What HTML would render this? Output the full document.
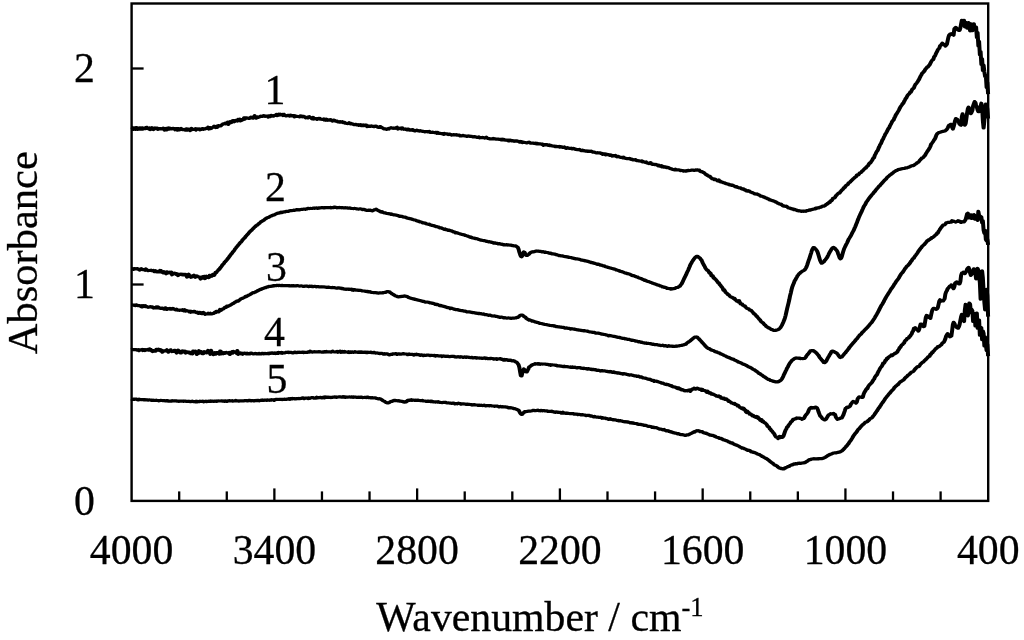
<!DOCTYPE html>
<html><head><meta charset="utf-8"><title>Absorbance spectra</title>
<style>
html,body{margin:0;padding:0;background:#fff;}
body{width:1024px;height:640px;overflow:hidden;}
svg{display:block;}
text{font-family:"Liberation Serif", serif;font-size:42.5px;fill:#000;stroke:#000;stroke-width:0.3px;}
</style></head><body>
<svg width="1024" height="640" viewBox="0 0 1024 640">
<rect width="1024" height="640" fill="#fff"/>
<g transform="scale(1.25,1)" fill="none" stroke="#000" stroke-width="3.2" stroke-linejoin="round" stroke-linecap="butt">
<path d="M105.28,127.2 L105.88,127.4 L106.48,129.4 L107.08,129.0 L107.68,128.0 L108.28,129.3 L108.88,127.6 L109.48,129.2 L110.08,129.4 L110.68,128.1 L111.28,127.9 L111.88,129.1 L112.48,127.9 L113.08,129.1 L113.68,127.8 L114.28,129.0 L114.88,128.6 L115.48,128.3 L116.08,127.9 L116.68,128.6 L117.28,127.3 L117.88,128.3 L118.48,128.3 L119.08,129.0 L119.68,127.9 L120.28,129.6 L120.88,128.3 L121.48,127.7 L122.08,129.3 L122.68,129.5 L123.28,128.4 L123.88,128.0 L124.48,128.5 L125.08,128.1 L125.68,128.2 L126.28,129.4 L126.88,128.7 L127.48,128.6 L128.08,128.8 L128.68,128.5 L129.28,129.0 L129.88,128.9 L130.48,128.2 L131.08,128.6 L131.68,130.0 L132.28,128.8 L132.88,128.5 L133.48,129.8 L134.08,128.6 L134.68,128.0 L135.28,129.1 L135.88,128.2 L136.48,128.5 L137.08,129.0 L137.68,128.7 L138.28,128.3 L138.88,128.5 L139.48,128.6 L140.08,129.7 L140.68,128.6 L141.28,128.7 L141.88,130.2 L142.48,128.6 L143.08,129.9 L143.68,129.9 L144.28,129.1 L144.88,128.4 L145.48,129.5 L146.08,129.6 L146.68,129.7 L147.28,129.3 L147.88,130.0 L148.48,130.2 L149.08,128.8 L149.68,130.2 L150.28,129.5 L150.88,129.0 L151.48,129.2 L152.08,130.5 L152.68,130.0 L153.28,128.4 L153.88,129.5 L154.48,129.3 L155.08,129.3 L155.68,129.2 L156.28,128.7 L156.88,130.0 L157.48,129.0 L158.08,129.2 L158.68,129.0 L159.28,128.9 L159.88,129.8 L160.48,129.5 L161.08,128.9 L161.68,128.6 L162.28,128.7 L162.88,129.4 L163.48,128.8 L164.08,128.8 L164.68,128.4 L165.28,128.4 L165.88,128.5 L166.48,127.2 L167.08,129.0 L167.68,127.5 L168.28,127.5 L168.88,128.5 L169.48,127.7 L170.08,127.4 L170.68,126.9 L171.28,126.2 L171.88,127.1 L172.48,127.6 L173.08,126.3 L173.68,127.4 L174.28,125.8 L174.88,125.7 L175.48,126.1 L176.08,125.6 L176.68,125.9 L177.28,124.9 L177.88,124.6 L178.48,123.8 L179.08,123.9 L179.68,123.6 L180.28,123.2 L180.88,123.9 L181.48,123.2 L182.08,122.2 L182.68,124.4 L183.28,122.2 L183.88,121.7 L184.48,122.8 L185.08,122.6 L185.68,121.1 L186.28,120.7 L186.88,120.7 L187.48,121.7 L188.08,120.7 L188.68,120.3 L189.28,120.6 L189.88,121.1 L190.48,119.5 L191.08,119.9 L191.68,119.1 L192.28,120.9 L192.88,120.6 L193.48,120.0 L194.08,119.3 L194.68,119.6 L195.28,117.8 L195.88,119.0 L196.48,117.9 L197.08,117.8 L197.68,118.0 L198.28,118.1 L198.88,118.4 L199.48,118.3 L200.08,117.9 L200.68,117.1 L201.28,117.9 L201.88,117.4 L202.48,118.0 L203.08,116.8 L203.68,115.7 L204.28,116.8 L204.88,118.2 L205.48,117.2 L206.08,116.8 L206.68,117.3 L207.28,117.0 L207.88,116.8 L208.48,116.2 L209.08,116.4 L209.68,116.4 L210.28,115.9 L210.88,115.6 L211.48,116.1 L212.08,116.4 L212.68,116.1 L213.28,116.0 L213.88,116.0 L214.48,117.1 L215.08,115.8 L215.68,116.2 L216.28,116.5 L216.88,115.4 L217.48,115.5 L218.08,115.9 L218.68,116.2 L219.28,115.5 L219.88,115.4 L220.48,115.2 L221.08,114.4 L221.68,115.6 L222.28,114.9 L222.88,114.2 L223.48,115.0 L224.08,114.1 L224.68,114.5 L225.28,114.9 L225.88,114.5 L226.48,115.5 L227.08,114.3 L227.68,115.2 L228.28,115.4 L228.88,115.9 L229.48,115.7 L230.08,115.4 L230.68,115.4 L231.28,115.4 L231.88,116.1 L232.48,115.2 L233.08,115.8 L233.68,115.5 L234.28,115.8 L234.88,115.7 L235.48,116.9 L236.08,115.8 L236.68,116.2 L237.28,116.3 L237.88,116.5 L238.48,116.5 L239.08,116.5 L239.68,116.9 L240.28,115.9 L240.88,116.6 L241.48,116.1 L242.08,116.8 L242.68,116.3 L243.28,116.6 L243.88,117.1 L244.48,117.8 L245.08,117.5 L245.68,117.4 L246.28,117.9 L246.88,117.0 L247.48,116.7 L248.08,117.5 L248.68,117.7 L249.28,118.4 L249.88,118.8 L250.48,117.4 L251.08,119.0 L251.68,118.8 L252.28,118.6 L252.88,118.6 L253.48,119.4 L254.08,118.6 L254.68,118.4 L255.28,118.8 L255.88,118.4 L256.48,119.2 L257.08,119.1 L257.68,119.4 L258.28,119.4 L258.88,119.0 L259.48,120.0 L260.08,119.3 L260.68,120.2 L261.28,119.3 L261.88,120.2 L262.48,119.8 L263.08,120.2 L263.68,120.1 L264.28,119.6 L264.88,120.1 L265.48,120.7 L266.08,121.0 L266.68,120.3 L267.28,120.1 L267.88,120.7 L268.48,121.1 L269.08,121.1 L269.68,121.2 L270.28,121.9 L270.88,122.0 L271.48,122.1 L272.08,121.6 L272.68,122.1 L273.28,122.2 L273.88,121.8 L274.48,122.7 L275.08,122.5 L275.68,122.4 L276.28,123.2 L276.88,123.2 L277.48,123.4 L278.08,123.6 L278.68,123.5 L279.28,122.8 L279.88,123.3 L280.48,123.9 L281.08,123.5 L281.68,123.9 L282.28,124.1 L282.88,124.6 L283.48,124.6 L284.08,124.5 L284.68,124.3 L285.28,124.8 L285.88,124.9 L286.48,124.7 L287.08,125.3 L287.68,125.0 L288.28,124.7 L288.88,125.5 L289.48,125.2 L290.08,125.6 L290.68,124.9 L291.28,125.5 L291.88,125.2 L292.48,125.3 L293.08,125.1 L293.68,126.5 L294.28,125.9 L294.88,126.0 L295.48,126.3 L296.08,126.0 L296.68,126.3 L297.28,125.8 L297.88,126.4 L298.48,126.3 L299.08,126.6 L299.68,126.6 L300.28,126.1 L300.88,126.1 L301.48,126.5 L302.08,127.2 L302.68,127.3 L303.28,127.4 L303.88,126.7 L304.48,126.6 L305.08,127.4 L305.68,127.8 L306.28,128.0 L306.88,128.7 L307.48,128.9 L308.08,128.8 L308.68,129.0 L309.28,129.3 L309.88,129.0 L310.48,128.6 L311.08,129.0 L311.68,128.0 L312.28,128.0 L312.88,127.7 L313.48,127.9 L314.08,128.2 L314.68,128.3 L315.28,128.1 L315.88,128.3 L316.48,128.2 L317.08,127.7 L317.68,127.3 L318.28,129.1 L318.88,128.7 L319.48,128.5 L320.08,128.1 L320.68,128.2 L321.28,129.0 L321.88,127.9 L322.48,128.8 L323.08,129.3 L323.68,129.1 L324.28,129.3 L324.88,129.1 L325.48,129.9 L326.08,129.0 L326.68,129.1 L327.28,129.8 L327.88,130.2 L328.48,129.8 L329.08,130.1 L329.68,129.7 L330.28,129.7 L330.88,130.6 L331.48,130.8 L332.08,130.9 L332.68,130.4 L333.28,130.2 L333.88,130.3 L334.48,130.7 L335.08,131.0 L335.68,131.1 L336.28,130.6 L336.88,131.2 L337.48,131.2 L338.08,131.3 L338.68,131.4 L339.28,131.5 L339.88,131.8 L340.48,131.7 L341.08,131.7 L341.68,131.5 L342.28,131.8 L342.88,131.8 L343.48,131.4 L344.08,132.3 L344.68,132.1 L345.28,132.5 L345.88,132.2 L346.48,132.3 L347.08,132.5 L347.68,132.6 L348.28,132.6 L348.88,132.3 L349.48,133.3 L350.08,132.4 L350.68,132.9 L351.28,133.3 L351.88,133.3 L352.48,133.5 L353.08,133.6 L353.68,133.8 L354.28,133.6 L354.88,134.4 L355.48,133.4 L356.08,133.9 L356.68,133.8 L357.28,133.8 L357.88,134.1 L358.48,134.5 L359.08,134.0 L359.68,134.1 L360.28,134.6 L360.88,134.7 L361.48,135.1 L362.08,134.9 L362.68,134.7 L363.28,134.6 L363.88,134.9 L364.48,134.9 L365.08,134.7 L365.68,135.1 L366.28,135.1 L366.88,135.1 L367.48,135.2 L368.08,135.9 L368.68,135.7 L369.28,135.9 L369.88,135.5 L370.48,135.4 L371.08,135.7 L371.68,135.9 L372.28,135.9 L372.88,136.1 L373.48,136.5 L374.08,136.3 L374.68,135.9 L375.28,136.1 L375.88,136.2 L376.48,136.5 L377.08,136.3 L377.68,136.6 L378.28,136.9 L378.88,136.8 L379.48,136.6 L380.08,136.8 L380.68,137.1 L381.28,137.3 L381.88,137.5 L382.48,137.3 L383.08,137.0 L383.68,137.8 L384.28,137.5 L384.88,137.7 L385.48,137.7 L386.08,137.4 L386.68,137.6 L387.28,137.8 L387.88,138.1 L388.48,137.9 L389.08,137.2 L389.68,138.1 L390.28,138.4 L390.88,138.6 L391.48,138.5 L392.08,139.0 L392.68,138.8 L393.28,138.9 L393.88,138.9 L394.48,138.4 L395.08,139.0 L395.68,139.0 L396.28,138.8 L396.88,139.2 L397.48,139.2 L398.08,139.1 L398.68,139.2 L399.28,139.3 L399.88,139.5 L400.48,139.4 L401.08,139.8 L401.68,139.2 L402.28,139.8 L402.88,139.4 L403.48,139.8 L404.08,140.1 L404.68,140.0 L405.28,140.1 L405.88,140.3 L406.48,140.8 L407.08,140.1 L407.68,140.7 L408.28,140.1 L408.88,140.4 L409.48,140.8 L410.08,140.6 L410.68,141.1 L411.28,141.3 L411.88,140.8 L412.48,141.1 L413.08,141.1 L413.68,140.8 L414.28,141.4 L414.88,141.3 L415.48,142.0 L416.08,141.4 L416.68,142.1 L417.28,141.6 L417.88,142.5 L418.48,142.2 L419.08,142.3 L419.68,142.5 L420.28,142.5 L420.88,142.7 L421.48,142.9 L422.08,142.5 L422.68,142.4 L423.28,142.1 L423.88,142.8 L424.48,143.2 L425.08,143.2 L425.68,143.2 L426.28,143.2 L426.88,143.2 L427.48,143.4 L428.08,143.6 L428.68,143.1 L429.28,143.9 L429.88,143.4 L430.48,143.8 L431.08,143.8 L431.68,144.0 L432.28,143.9 L432.88,144.0 L433.48,144.3 L434.08,144.2 L434.68,145.3 L435.28,144.6 L435.88,144.7 L436.48,144.8 L437.08,144.7 L437.68,144.5 L438.28,145.2 L438.88,145.4 L439.48,145.0 L440.08,145.6 L440.68,145.3 L441.28,145.7 L441.88,145.9 L442.48,146.1 L443.08,146.2 L443.68,146.0 L444.28,146.6 L444.88,146.3 L445.48,146.5 L446.08,146.7 L446.68,146.6 L447.28,146.4 L447.88,147.1 L448.48,146.7 L449.08,146.9 L449.68,146.9 L450.28,147.5 L450.88,147.4 L451.48,146.9 L452.08,147.8 L452.68,148.3 L453.28,148.3 L453.88,147.7 L454.48,148.0 L455.08,148.3 L455.68,148.5 L456.28,148.4 L456.88,148.2 L457.48,148.8 L458.08,148.8 L458.68,148.3 L459.28,148.7 L459.88,149.1 L460.48,149.2 L461.08,149.5 L461.68,149.6 L462.28,149.7 L462.88,149.6 L463.48,149.4 L464.08,150.1 L464.68,150.4 L465.28,150.7 L465.88,150.2 L466.48,150.3 L467.08,150.8 L467.68,151.0 L468.28,150.9 L468.88,151.2 L469.48,150.9 L470.08,151.3 L470.68,151.0 L471.28,151.3 L471.88,151.4 L472.48,151.5 L473.08,151.2 L473.68,151.7 L474.28,152.1 L474.88,152.1 L475.48,152.1 L476.08,152.5 L476.68,152.7 L477.28,152.9 L477.88,152.6 L478.48,152.9 L479.08,152.9 L479.68,152.9 L480.28,152.9 L480.88,153.5 L481.48,153.4 L482.08,154.3 L482.68,153.8 L483.28,153.8 L483.88,153.9 L484.48,154.8 L485.08,154.2 L485.68,154.6 L486.28,154.5 L486.88,154.8 L487.48,154.9 L488.08,155.4 L488.68,154.9 L489.28,155.5 L489.88,156.1 L490.48,155.6 L491.08,155.8 L491.68,155.7 L492.28,155.4 L492.88,156.3 L493.48,156.8 L494.08,156.5 L494.68,156.3 L495.28,156.9 L495.88,157.0 L496.48,157.4 L497.08,157.5 L497.68,157.4 L498.28,157.8 L498.88,157.2 L499.48,158.1 L500.08,158.0 L500.68,158.4 L501.28,158.6 L501.88,158.5 L502.48,158.7 L503.08,158.6 L503.68,158.4 L504.28,159.0 L504.88,159.3 L505.48,159.1 L506.08,159.8 L506.68,159.8 L507.28,160.0 L507.88,159.8 L508.48,159.7 L509.08,160.5 L509.68,160.7 L510.28,160.7 L510.88,160.8 L511.48,160.9 L512.08,161.1 L512.68,161.2 L513.28,160.9 L513.88,161.8 L514.48,161.4 L515.08,161.9 L515.68,162.0 L516.28,162.4 L516.88,162.0 L517.48,163.0 L518.08,163.1 L518.68,163.3 L519.28,163.6 L519.88,163.1 L520.48,162.6 L521.08,163.7 L521.68,164.2 L522.28,164.4 L522.88,164.2 L523.48,164.5 L524.08,164.7 L524.68,164.3 L525.28,164.7 L525.88,165.0 L526.48,165.8 L527.08,165.3 L527.68,166.1 L528.28,165.9 L528.88,165.6 L529.48,166.8 L530.08,166.1 L530.68,166.7 L531.28,167.2 L531.88,166.8 L532.48,166.8 L533.08,167.6 L533.68,167.5 L534.28,167.4 L534.88,167.7 L535.48,168.1 L536.08,168.7 L536.68,168.5 L537.28,168.9 L537.88,169.3 L538.48,169.5 L539.08,169.7 L539.68,169.8 L540.28,169.2 L540.88,170.0 L541.48,169.9 L542.08,169.9 L542.68,169.9 L543.28,169.9 L543.88,170.2 L544.48,170.6 L545.08,170.4 L545.68,170.6 L546.28,170.7 L546.88,171.1 L547.48,170.8 L548.08,170.9 L548.68,171.2 L549.28,170.6 L549.88,170.8 L550.48,170.3 L551.08,170.6 L551.68,170.5 L552.28,170.5 L552.88,170.3 L553.48,170.0 L554.08,170.1 L554.68,170.0 L555.28,170.4 L555.88,170.4 L556.48,169.8 L557.08,170.2 L557.68,169.8 L558.28,170.1 L558.88,170.1 L559.48,170.2 L560.08,171.3 L560.68,171.6 L561.28,171.5 L561.88,171.7 L562.48,172.4 L563.08,172.6 L563.68,173.3 L564.28,174.0 L564.88,174.7 L565.48,174.7 L566.08,175.6 L566.68,176.1 L567.28,176.2 L567.88,176.3 L568.48,177.5 L569.08,177.9 L569.68,178.7 L570.28,178.8 L570.88,178.9 L571.48,179.5 L572.08,179.1 L572.68,179.8 L573.28,180.0 L573.88,180.8 L574.48,180.7 L575.08,180.0 L575.68,181.5 L576.28,181.2 L576.88,182.0 L577.48,181.9 L578.08,182.3 L578.68,182.7 L579.28,182.8 L579.88,182.8 L580.48,183.7 L581.08,183.7 L581.68,183.8 L582.28,184.2 L582.88,184.0 L583.48,184.9 L584.08,184.7 L584.68,185.0 L585.28,185.3 L585.88,185.2 L586.48,185.3 L587.08,185.9 L587.68,186.2 L588.28,186.8 L588.88,186.8 L589.48,186.7 L590.08,187.4 L590.68,187.6 L591.28,187.9 L591.88,187.9 L592.48,187.8 L593.08,188.8 L593.68,188.6 L594.28,189.2 L594.88,188.9 L595.48,189.8 L596.08,189.6 L596.68,190.5 L597.28,191.0 L597.88,191.1 L598.48,190.7 L599.08,191.0 L599.68,191.3 L600.28,192.0 L600.88,192.2 L601.48,192.4 L602.08,192.8 L602.68,193.1 L603.28,193.4 L603.88,193.9 L604.48,193.8 L605.08,194.2 L605.68,193.9 L606.28,194.4 L606.88,194.8 L607.48,195.0 L608.08,195.7 L608.68,196.2 L609.28,196.1 L609.88,196.4 L610.48,196.7 L611.08,197.1 L611.68,197.2 L612.28,197.7 L612.88,198.0 L613.48,198.3 L614.08,198.8 L614.68,198.9 L615.28,199.2 L615.88,200.0 L616.48,199.8 L617.08,200.4 L617.68,200.5 L618.28,200.8 L618.88,201.1 L619.48,201.3 L620.08,201.8 L620.68,201.9 L621.28,202.3 L621.88,203.1 L622.48,203.1 L623.08,203.8 L623.68,203.8 L624.28,204.3 L624.88,204.2 L625.48,204.8 L626.08,205.8 L626.68,205.7 L627.28,206.1 L627.88,206.1 L628.48,206.5 L629.08,206.2 L629.68,206.7 L630.28,207.4 L630.88,207.9 L631.48,207.9 L632.08,208.2 L632.68,208.5 L633.28,208.8 L633.88,208.8 L634.48,209.0 L635.08,209.7 L635.68,209.4 L636.28,209.8 L636.88,210.1 L637.48,210.2 L638.08,210.7 L638.68,210.7 L639.28,211.0 L639.88,210.9 L640.48,211.0 L641.08,211.3 L641.68,211.3 L642.28,211.1 L642.88,211.3 L643.48,211.2 L644.08,211.1 L644.68,211.3 L645.28,210.6 L645.88,210.7 L646.48,210.5 L647.08,210.2 L647.68,209.8 L648.28,210.1 L648.88,209.8 L649.48,209.5 L650.08,209.3 L650.68,209.2 L651.28,208.8 L651.88,209.0 L652.48,208.2 L653.08,208.5 L653.68,207.8 L654.28,207.9 L654.88,208.0 L655.48,207.5 L656.08,207.2 L656.68,207.2 L657.28,206.7 L657.88,206.3 L658.48,206.0 L659.08,206.2 L659.68,205.7 L660.28,205.3 L660.88,204.4 L661.48,204.4 L662.08,203.4 L662.68,203.3 L663.28,202.2 L663.88,202.4 L664.48,200.8 L665.08,200.9 L665.68,200.0 L666.28,198.5 L666.88,198.2 L667.48,198.0 L668.08,197.2 L668.68,195.8 L669.28,195.3 L669.88,194.3 L670.48,193.6 L671.08,193.0 L671.68,193.0 L672.28,191.8 L672.88,191.0 L673.48,190.1 L674.08,189.6 L674.68,188.7 L675.28,187.5 L675.88,187.4 L676.48,186.0 L677.08,185.4 L677.68,184.8 L678.28,184.4 L678.88,183.0 L679.48,182.5 L680.08,182.0 L680.68,181.1 L681.28,180.5 L681.88,179.8 L682.48,178.9 L683.08,178.3 L683.68,177.7 L684.28,176.9 L684.88,176.7 L685.48,175.1 L686.08,174.8 L686.68,174.8 L687.28,173.9 L687.88,172.9 L688.48,172.6 L689.08,172.2 L689.68,171.1 L690.28,170.7 L690.88,169.7 L691.48,169.0 L692.08,168.3 L692.68,168.0 L693.28,166.7 L693.88,166.2 L694.48,165.6 L695.08,164.1 L695.68,163.1 L696.28,162.9 L696.88,161.8 L697.48,160.7 L698.08,159.6 L698.68,158.0 L699.28,157.7 L699.88,155.1 L700.48,153.9 L701.08,152.2 L701.68,151.1 L702.28,150.1 L702.88,148.0 L703.48,146.6 L704.08,144.6 L704.68,143.8 L705.28,141.9 L705.88,140.0 L706.48,139.1 L707.08,137.1 L707.68,135.8 L708.28,134.1 L708.88,133.0 L709.48,131.7 L710.08,130.2 L710.68,128.6 L711.28,127.9 L711.88,126.0 L712.48,124.7 L713.08,123.3 L713.68,121.6 L714.28,120.6 L714.88,120.1 L715.48,118.0 L716.08,116.6 L716.68,114.9 L717.28,113.9 L717.88,112.6 L718.48,111.4 L719.08,110.1 L719.68,108.5 L720.28,107.1 L720.88,106.0 L721.48,105.0 L722.08,103.7 L722.68,103.3 L723.28,101.5 L723.88,100.1 L724.48,98.6 L725.08,97.9 L725.68,96.2 L726.28,95.0 L726.88,94.3 L727.48,93.8 L728.08,92.2 L728.68,92.1 L729.28,90.6 L729.88,89.2 L730.48,88.6 L731.08,88.2 L731.68,86.0 L732.28,84.5 L732.88,83.7 L733.48,82.8 L734.08,81.8 L734.68,80.4 L735.28,79.4 L735.88,77.6 L736.48,76.1 L737.08,75.0 L737.68,73.2 L738.28,72.9 L738.88,71.7 L739.48,71.3 L740.08,69.6 L740.68,68.6 L741.28,68.0 L741.88,66.8 L742.48,66.8 L743.08,65.6 L743.68,64.9 L744.28,63.4 L744.88,61.9 L745.48,60.6 L746.08,59.8 L746.68,59.5 L747.28,56.8 L747.88,56.1 L748.48,54.5 L749.08,52.7 L749.68,51.6 L750.28,49.8 L750.88,48.8 L751.48,48.2 L752.08,45.7 L752.68,45.4 L753.28,44.4 L753.88,43.1 L754.48,43.9 L755.08,44.4 L755.68,44.9 L756.28,46.0 L756.88,45.2 L757.48,44.4 L758.08,41.0 L758.68,37.4 L759.28,35.2 L759.88,34.3 L760.48,34.7 L761.08,33.8 L761.68,34.4 L762.28,34.3 L762.88,35.2 L763.48,28.8 L764.08,28.1 L764.68,27.4 L765.28,28.7 L765.88,29.2 L766.48,30.1 L767.08,30.4 L767.68,30.3 L768.28,28.0 L768.88,23.9 L769.48,20.3 L770.08,24.4 L770.68,25.0 L771.28,20.4 L771.88,26.9 L772.48,26.4 L773.08,22.5 L773.68,28.2 L774.28,27.6 L774.88,22.7 L775.48,26.1 L776.08,30.9 L776.68,23.8 L777.28,25.1 L777.88,30.7 L778.48,27.0 L779.08,23.8 L779.68,29.2 L780.28,30.2 L780.88,27.0 L781.48,37.4 L782.08,32.6 L782.68,45.9 L783.28,41.4 L783.88,54.6 L784.48,51.6 L785.08,64.4 L785.68,58.8 L786.28,70.3 L786.88,65.1 L787.48,71.7 L788.08,76.5 L788.68,75.3 L789.28,87.5 L789.88,82.4 L790.48,94.1"/>
<path d="M105.28,268.8 L105.88,268.8 L106.48,268.7 L107.08,269.4 L107.68,268.5 L108.28,268.7 L108.88,268.9 L109.48,268.6 L110.08,268.7 L110.68,268.9 L111.28,269.8 L111.88,270.1 L112.48,269.6 L113.08,268.8 L113.68,269.3 L114.28,269.6 L114.88,269.7 L115.48,269.7 L116.08,270.2 L116.68,269.0 L117.28,269.7 L117.88,270.2 L118.48,270.6 L119.08,270.5 L119.68,270.5 L120.28,270.4 L120.88,270.2 L121.48,270.7 L122.08,270.6 L122.68,270.4 L123.28,271.6 L123.88,271.7 L124.48,270.8 L125.08,271.5 L125.68,271.9 L126.28,271.4 L126.88,271.4 L127.48,271.8 L128.08,270.4 L128.68,270.6 L129.28,272.1 L129.88,272.0 L130.48,272.9 L131.08,271.7 L131.68,272.9 L132.28,273.0 L132.88,273.7 L133.48,271.8 L134.08,272.2 L134.68,272.8 L135.28,272.9 L135.88,272.2 L136.48,272.6 L137.08,272.2 L137.68,274.8 L138.28,273.2 L138.88,273.4 L139.48,273.1 L140.08,273.6 L140.68,274.3 L141.28,273.6 L141.88,273.9 L142.48,275.6 L143.08,274.8 L143.68,274.5 L144.28,274.1 L144.88,274.5 L145.48,274.1 L146.08,274.9 L146.68,274.3 L147.28,274.4 L147.88,274.8 L148.48,274.4 L149.08,275.4 L149.68,277.1 L150.28,275.0 L150.88,274.3 L151.48,276.3 L152.08,275.7 L152.68,277.3 L153.28,276.3 L153.88,276.8 L154.48,275.8 L155.08,275.3 L155.68,276.4 L156.28,277.2 L156.88,276.2 L157.48,275.8 L158.08,276.5 L158.68,276.7 L159.28,276.9 L159.88,277.2 L160.48,279.0 L161.08,277.4 L161.68,277.0 L162.28,276.6 L162.88,278.0 L163.48,276.3 L164.08,278.5 L164.68,277.4 L165.28,276.3 L165.88,277.3 L166.48,276.9 L167.08,277.6 L167.68,275.3 L168.28,276.3 L168.88,275.8 L169.48,276.2 L170.08,274.4 L170.68,274.2 L171.28,275.4 L171.88,274.0 L172.48,272.4 L173.08,272.6 L173.68,271.4 L174.28,270.6 L174.88,269.6 L175.48,269.4 L176.08,268.0 L176.68,267.2 L177.28,266.2 L177.88,265.0 L178.48,264.2 L179.08,263.5 L179.68,262.2 L180.28,261.6 L180.88,260.7 L181.48,259.9 L182.08,258.9 L182.68,258.0 L183.28,256.9 L183.88,255.9 L184.48,254.8 L185.08,253.9 L185.68,253.2 L186.28,251.9 L186.88,251.2 L187.48,250.2 L188.08,248.9 L188.68,248.1 L189.28,247.0 L189.88,246.3 L190.48,245.2 L191.08,244.4 L191.68,243.5 L192.28,242.4 L192.88,242.1 L193.48,241.0 L194.08,239.8 L194.68,239.2 L195.28,238.2 L195.88,237.7 L196.48,236.5 L197.08,235.7 L197.68,234.8 L198.28,234.2 L198.88,233.2 L199.48,232.3 L200.08,231.5 L200.68,230.7 L201.28,230.2 L201.88,229.4 L202.48,228.6 L203.08,227.9 L203.68,227.1 L204.28,226.6 L204.88,225.6 L205.48,225.3 L206.08,224.9 L206.68,224.1 L207.28,223.4 L207.88,222.9 L208.48,222.1 L209.08,221.5 L209.68,221.2 L210.28,220.5 L210.88,220.4 L211.48,219.7 L212.08,219.1 L212.68,218.6 L213.28,218.2 L213.88,217.5 L214.48,217.5 L215.08,217.3 L215.68,216.8 L216.28,216.3 L216.88,216.1 L217.48,215.7 L218.08,215.3 L218.68,215.1 L219.28,215.0 L219.88,214.5 L220.48,214.1 L221.08,213.8 L221.68,213.6 L222.28,213.1 L222.88,213.2 L223.48,213.0 L224.08,212.4 L224.68,212.2 L225.28,212.6 L225.88,212.2 L226.48,212.2 L227.08,211.8 L227.68,212.0 L228.28,211.7 L228.88,211.3 L229.48,211.3 L230.08,211.4 L230.68,211.4 L231.28,211.0 L231.88,210.7 L232.48,210.5 L233.08,210.7 L233.68,210.6 L234.28,210.4 L234.88,210.2 L235.48,210.3 L236.08,210.2 L236.68,210.0 L237.28,209.6 L237.88,209.7 L238.48,209.9 L239.08,209.6 L239.68,209.9 L240.28,209.6 L240.88,209.4 L241.48,209.4 L242.08,209.4 L242.68,209.1 L243.28,209.2 L243.88,209.0 L244.48,209.3 L245.08,208.8 L245.68,208.8 L246.28,208.4 L246.88,208.4 L247.48,208.6 L248.08,208.4 L248.68,208.5 L249.28,208.5 L249.88,208.5 L250.48,208.1 L251.08,208.2 L251.68,208.3 L252.28,208.1 L252.88,207.9 L253.48,208.0 L254.08,208.3 L254.68,207.9 L255.28,208.1 L255.88,207.8 L256.48,208.0 L257.08,207.6 L257.68,207.7 L258.28,207.7 L258.88,207.9 L259.48,207.7 L260.08,207.8 L260.68,207.6 L261.28,207.5 L261.88,207.7 L262.48,207.7 L263.08,207.6 L263.68,207.6 L264.28,207.4 L264.88,207.8 L265.48,207.5 L266.08,207.7 L266.68,207.6 L267.28,207.2 L267.88,207.2 L268.48,207.3 L269.08,207.5 L269.68,207.8 L270.28,207.6 L270.88,207.7 L271.48,207.4 L272.08,207.6 L272.68,207.6 L273.28,207.8 L273.88,207.6 L274.48,207.8 L275.08,207.9 L275.68,207.8 L276.28,207.7 L276.88,207.9 L277.48,207.8 L278.08,207.9 L278.68,208.2 L279.28,208.2 L279.88,207.9 L280.48,208.2 L281.08,208.4 L281.68,208.5 L282.28,208.5 L282.88,208.6 L283.48,208.4 L284.08,208.5 L284.68,208.5 L285.28,208.9 L285.88,208.9 L286.48,209.1 L287.08,209.1 L287.68,208.9 L288.28,208.9 L288.88,209.0 L289.48,209.2 L290.08,209.6 L290.68,209.4 L291.28,209.4 L291.88,209.8 L292.48,210.1 L293.08,210.2 L293.68,210.4 L294.28,210.3 L294.88,210.2 L295.48,210.3 L296.08,210.2 L296.68,210.3 L297.28,210.7 L297.88,210.8 L298.48,210.5 L299.08,210.1 L299.68,209.7 L300.28,209.5 L300.88,209.2 L301.48,209.8 L302.08,210.2 L302.68,210.6 L303.28,211.1 L303.88,211.2 L304.48,211.8 L305.08,212.1 L305.68,211.7 L306.28,212.3 L306.88,212.6 L307.48,213.0 L308.08,212.8 L308.68,213.1 L309.28,213.5 L309.88,213.5 L310.48,213.6 L311.08,213.7 L311.68,213.9 L312.28,213.9 L312.88,214.3 L313.48,214.2 L314.08,214.6 L314.68,214.8 L315.28,215.0 L315.88,214.9 L316.48,215.0 L317.08,215.2 L317.68,215.3 L318.28,215.7 L318.88,215.7 L319.48,216.2 L320.08,216.5 L320.68,216.1 L321.28,216.4 L321.88,216.4 L322.48,216.9 L323.08,217.1 L323.68,217.2 L324.28,217.2 L324.88,217.5 L325.48,218.0 L326.08,218.2 L326.68,218.3 L327.28,218.4 L327.88,218.7 L328.48,218.8 L329.08,218.9 L329.68,219.2 L330.28,219.6 L330.88,219.8 L331.48,220.0 L332.08,220.0 L332.68,220.2 L333.28,220.8 L333.88,220.8 L334.48,221.3 L335.08,221.2 L335.68,221.8 L336.28,221.9 L336.88,222.0 L337.48,222.2 L338.08,222.8 L338.68,222.9 L339.28,222.9 L339.88,223.2 L340.48,223.2 L341.08,223.9 L341.68,224.0 L342.28,224.0 L342.88,224.4 L343.48,224.1 L344.08,224.9 L344.68,225.1 L345.28,225.2 L345.88,225.5 L346.48,225.6 L347.08,225.7 L347.68,226.0 L348.28,226.3 L348.88,226.7 L349.48,226.7 L350.08,226.8 L350.68,227.2 L351.28,227.2 L351.88,227.9 L352.48,227.9 L353.08,227.9 L353.68,228.3 L354.28,228.7 L354.88,228.9 L355.48,229.3 L356.08,229.0 L356.68,229.7 L357.28,229.6 L357.88,230.0 L358.48,230.3 L359.08,230.1 L359.68,230.3 L360.28,230.7 L360.88,230.8 L361.48,230.9 L362.08,231.4 L362.68,231.8 L363.28,231.8 L363.88,232.2 L364.48,232.9 L365.08,232.7 L365.68,232.8 L366.28,233.0 L366.88,233.4 L367.48,233.5 L368.08,233.9 L368.68,234.1 L369.28,234.4 L369.88,234.5 L370.48,234.7 L371.08,234.8 L371.68,234.9 L372.28,235.4 L372.88,235.6 L373.48,235.9 L374.08,236.1 L374.68,236.3 L375.28,236.9 L375.88,236.9 L376.48,237.3 L377.08,237.2 L377.68,237.7 L378.28,238.0 L378.88,238.1 L379.48,238.1 L380.08,238.6 L380.68,238.5 L381.28,238.7 L381.88,238.8 L382.48,239.3 L383.08,239.3 L383.68,239.7 L384.28,239.9 L384.88,240.2 L385.48,240.2 L386.08,240.4 L386.68,240.6 L387.28,240.6 L387.88,240.8 L388.48,241.0 L389.08,241.3 L389.68,241.3 L390.28,241.6 L390.88,241.9 L391.48,241.6 L392.08,241.9 L392.68,242.1 L393.28,242.5 L393.88,242.4 L394.48,242.7 L395.08,243.2 L395.68,242.8 L396.28,243.1 L396.88,243.3 L397.48,243.4 L398.08,243.4 L398.68,243.9 L399.28,243.6 L399.88,243.8 L400.48,244.1 L401.08,244.1 L401.68,244.5 L402.28,244.4 L402.88,244.8 L403.48,244.6 L404.08,244.9 L404.68,244.8 L405.28,244.7 L405.88,244.8 L406.48,245.1 L407.08,244.9 L407.68,245.1 L408.28,245.0 L408.88,245.0 L409.48,245.5 L410.08,245.7 L410.68,245.6 L411.28,246.0 L411.88,246.0 L412.48,245.9 L413.08,246.3 L413.68,246.9 L414.28,247.5 L414.88,249.3 L415.48,252.2 L416.08,254.4 L416.68,256.2 L417.28,256.7 L417.88,255.9 L418.48,253.4 L419.08,252.0 L419.68,252.4 L420.28,253.8 L420.88,255.2 L421.48,255.5 L422.08,255.2 L422.68,254.6 L423.28,254.0 L423.88,253.1 L424.48,252.5 L425.08,252.3 L425.68,251.8 L426.28,252.0 L426.88,251.8 L427.48,251.7 L428.08,251.3 L428.68,251.2 L429.28,251.2 L429.88,251.0 L430.48,251.1 L431.08,251.2 L431.68,251.4 L432.28,251.3 L432.88,251.6 L433.48,251.9 L434.08,251.7 L434.68,251.7 L435.28,251.9 L435.88,252.3 L436.48,252.2 L437.08,252.4 L437.68,252.5 L438.28,252.6 L438.88,253.1 L439.48,253.0 L440.08,253.3 L440.68,253.1 L441.28,253.8 L441.88,253.8 L442.48,253.9 L443.08,254.0 L443.68,254.2 L444.28,254.2 L444.88,254.7 L445.48,254.7 L446.08,255.0 L446.68,255.2 L447.28,255.6 L447.88,255.5 L448.48,255.7 L449.08,255.9 L449.68,255.8 L450.28,256.0 L450.88,256.3 L451.48,256.5 L452.08,256.6 L452.68,256.6 L453.28,257.0 L453.88,256.9 L454.48,256.9 L455.08,257.5 L455.68,257.4 L456.28,257.5 L456.88,257.6 L457.48,257.8 L458.08,258.2 L458.68,258.1 L459.28,258.6 L459.88,258.5 L460.48,258.8 L461.08,258.8 L461.68,258.9 L462.28,259.0 L462.88,259.2 L463.48,259.3 L464.08,259.5 L464.68,259.9 L465.28,260.2 L465.88,260.2 L466.48,260.3 L467.08,260.3 L467.68,260.8 L468.28,261.0 L468.88,260.9 L469.48,261.2 L470.08,261.3 L470.68,261.3 L471.28,262.0 L471.88,262.1 L472.48,262.2 L473.08,262.6 L473.68,262.5 L474.28,262.8 L474.88,263.2 L475.48,263.2 L476.08,263.5 L476.68,263.5 L477.28,264.0 L477.88,264.3 L478.48,264.1 L479.08,264.3 L479.68,264.7 L480.28,265.1 L480.88,265.1 L481.48,265.3 L482.08,265.6 L482.68,266.0 L483.28,265.8 L483.88,266.3 L484.48,266.7 L485.08,266.8 L485.68,267.0 L486.28,267.4 L486.88,267.3 L487.48,267.9 L488.08,267.9 L488.68,268.1 L489.28,268.4 L489.88,268.6 L490.48,268.8 L491.08,268.9 L491.68,269.2 L492.28,269.3 L492.88,270.0 L493.48,269.9 L494.08,270.2 L494.68,270.4 L495.28,270.8 L495.88,270.9 L496.48,271.4 L497.08,271.5 L497.68,271.8 L498.28,272.1 L498.88,272.3 L499.48,272.7 L500.08,272.9 L500.68,273.2 L501.28,273.2 L501.88,273.7 L502.48,273.7 L503.08,274.0 L503.68,274.1 L504.28,274.4 L504.88,274.9 L505.48,275.3 L506.08,275.7 L506.68,275.6 L507.28,275.8 L507.88,276.2 L508.48,276.5 L509.08,276.8 L509.68,276.8 L510.28,277.3 L510.88,277.7 L511.48,278.0 L512.08,278.2 L512.68,278.4 L513.28,278.8 L513.88,279.3 L514.48,279.5 L515.08,279.9 L515.68,280.3 L516.28,280.2 L516.88,280.7 L517.48,281.0 L518.08,281.4 L518.68,281.5 L519.28,281.8 L519.88,282.0 L520.48,282.4 L521.08,282.6 L521.68,282.9 L522.28,283.3 L522.88,283.5 L523.48,283.7 L524.08,284.0 L524.68,284.2 L525.28,284.6 L525.88,285.0 L526.48,285.1 L527.08,285.1 L527.68,285.8 L528.28,285.9 L528.88,286.1 L529.48,286.4 L530.08,287.0 L530.68,286.8 L531.28,287.2 L531.88,287.5 L532.48,287.3 L533.08,287.9 L533.68,288.3 L534.28,288.4 L534.88,288.5 L535.48,288.6 L536.08,288.7 L536.68,289.1 L537.28,288.7 L537.88,288.9 L538.48,288.5 L539.08,288.6 L539.68,288.5 L540.28,288.2 L540.88,287.6 L541.48,287.5 L542.08,287.4 L542.68,286.9 L543.28,286.4 L543.88,286.2 L544.48,285.0 L545.08,284.3 L545.68,283.0 L546.28,281.4 L546.88,279.8 L547.48,278.1 L548.08,276.6 L548.68,275.2 L549.28,273.4 L549.88,271.8 L550.48,270.3 L551.08,268.4 L551.68,266.8 L552.28,264.7 L552.88,263.5 L553.48,262.1 L554.08,261.0 L554.68,259.8 L555.28,258.9 L555.88,257.7 L556.48,257.2 L557.08,256.4 L557.68,256.4 L558.28,256.4 L558.88,257.2 L559.48,257.8 L560.08,258.3 L560.68,259.5 L561.28,260.1 L561.88,262.1 L562.48,263.7 L563.08,265.0 L563.68,266.3 L564.28,267.9 L564.88,269.0 L565.48,270.1 L566.08,270.1 L566.68,271.0 L567.28,272.5 L567.88,273.4 L568.48,273.1 L569.08,275.6 L569.68,276.2 L570.28,276.0 L570.88,277.9 L571.48,278.1 L572.08,279.1 L572.68,279.7 L573.28,280.6 L573.88,281.6 L574.48,282.7 L575.08,283.0 L575.68,284.4 L576.28,285.1 L576.88,286.2 L577.48,287.0 L578.08,288.1 L578.68,290.1 L579.28,289.7 L579.88,290.8 L580.48,292.3 L581.08,292.9 L581.68,293.4 L582.28,294.6 L582.88,294.5 L583.48,295.5 L584.08,296.5 L584.68,296.9 L585.28,297.0 L585.88,297.6 L586.48,298.1 L587.08,298.7 L587.68,298.4 L588.28,299.9 L588.88,300.2 L589.48,301.2 L590.08,301.3 L590.68,301.9 L591.28,300.7 L591.88,302.4 L592.48,304.0 L593.08,303.9 L593.68,304.1 L594.28,305.2 L594.88,305.4 L595.48,306.1 L596.08,306.2 L596.68,307.3 L597.28,308.3 L597.88,308.3 L598.48,308.9 L599.08,308.9 L599.68,310.0 L600.28,310.2 L600.88,310.3 L601.48,311.3 L602.08,312.0 L602.68,313.0 L603.28,313.9 L603.88,314.1 L604.48,314.9 L605.08,316.2 L605.68,316.5 L606.28,317.6 L606.88,318.4 L607.48,319.3 L608.08,319.9 L608.68,321.3 L609.28,321.9 L609.88,322.4 L610.48,323.0 L611.08,323.9 L611.68,324.8 L612.28,325.1 L612.88,326.4 L613.48,326.7 L614.08,327.2 L614.68,327.8 L615.28,327.9 L615.88,328.5 L616.48,328.9 L617.08,329.4 L617.68,329.6 L618.28,330.1 L618.88,330.4 L619.48,330.5 L620.08,330.4 L620.68,330.3 L621.28,330.0 L621.88,329.9 L622.48,329.6 L623.08,329.2 L623.68,328.5 L624.28,327.8 L624.88,326.6 L625.48,325.4 L626.08,323.7 L626.68,322.1 L627.28,320.2 L627.88,318.2 L628.48,315.5 L629.08,312.1 L629.68,308.8 L630.28,305.7 L630.88,302.7 L631.48,299.4 L632.08,295.6 L632.68,292.8 L633.28,289.4 L633.88,286.7 L634.48,284.7 L635.08,283.1 L635.68,280.9 L636.28,279.9 L636.88,278.4 L637.48,277.1 L638.08,275.7 L638.68,274.8 L639.28,273.8 L639.88,273.3 L640.48,272.4 L641.08,272.0 L641.68,271.4 L642.28,270.8 L642.88,270.7 L643.48,270.1 L644.08,269.4 L644.68,268.1 L645.28,266.6 L645.88,264.5 L646.48,262.2 L647.08,259.9 L647.68,258.1 L648.28,255.4 L648.88,253.1 L649.48,250.5 L650.08,248.9 L650.68,247.6 L651.28,247.5 L651.88,248.3 L652.48,249.0 L653.08,250.0 L653.68,251.1 L654.28,252.8 L654.88,255.3 L655.48,257.9 L656.08,260.5 L656.68,262.0 L657.28,263.2 L657.88,262.9 L658.48,262.2 L659.08,261.9 L659.68,260.5 L660.28,259.9 L660.88,258.7 L661.48,257.9 L662.08,256.5 L662.68,255.0 L663.28,253.3 L663.88,251.9 L664.48,250.8 L665.08,249.4 L665.68,248.3 L666.28,247.7 L666.88,247.4 L667.48,248.0 L668.08,248.5 L668.68,249.6 L669.28,250.3 L669.88,251.4 L670.48,253.7 L671.08,255.6 L671.68,257.7 L672.28,258.8 L672.88,258.3 L673.48,256.4 L674.08,253.7 L674.68,251.1 L675.28,248.8 L675.88,247.2 L676.48,245.6 L677.08,244.1 L677.68,242.8 L678.28,241.1 L678.88,239.3 L679.48,238.2 L680.08,236.9 L680.68,235.8 L681.28,234.2 L681.88,232.6 L682.48,231.3 L683.08,230.0 L683.68,228.1 L684.28,226.5 L684.88,224.6 L685.48,222.8 L686.08,220.6 L686.68,218.9 L687.28,216.9 L687.88,215.3 L688.48,213.6 L689.08,212.2 L689.68,210.4 L690.28,208.8 L690.88,207.0 L691.48,205.6 L692.08,204.8 L692.68,203.1 L693.28,201.7 L693.88,200.8 L694.48,199.7 L695.08,198.6 L695.68,197.6 L696.28,196.6 L696.88,195.9 L697.48,194.7 L698.08,194.0 L698.68,193.2 L699.28,192.0 L699.88,191.5 L700.48,190.3 L701.08,189.4 L701.68,188.5 L702.28,187.8 L702.88,186.6 L703.48,186.0 L704.08,185.4 L704.68,184.3 L705.28,183.6 L705.88,182.6 L706.48,182.0 L707.08,181.0 L707.68,180.2 L708.28,179.4 L708.88,178.9 L709.48,177.8 L710.08,176.9 L710.68,176.4 L711.28,175.8 L711.88,175.1 L712.48,174.5 L713.08,174.1 L713.68,173.4 L714.28,172.9 L714.88,172.2 L715.48,171.5 L716.08,171.4 L716.68,170.6 L717.28,170.5 L717.88,170.2 L718.48,169.6 L719.08,169.4 L719.68,169.3 L720.28,169.2 L720.88,168.8 L721.48,168.8 L722.08,168.6 L722.68,168.5 L723.28,168.5 L723.88,168.2 L724.48,167.8 L725.08,168.0 L725.68,167.7 L726.28,167.5 L726.88,167.1 L727.48,167.1 L728.08,166.6 L728.68,166.2 L729.28,165.8 L729.88,165.7 L730.48,165.7 L731.08,165.2 L731.68,164.7 L732.28,164.1 L732.88,163.8 L733.48,163.1 L734.08,162.4 L734.68,162.2 L735.28,161.3 L735.88,160.3 L736.48,159.5 L737.08,158.6 L737.68,157.8 L738.28,157.9 L738.88,157.1 L739.48,156.0 L740.08,155.4 L740.68,153.8 L741.28,152.6 L741.88,151.4 L742.48,150.4 L743.08,149.2 L743.68,148.0 L744.28,146.5 L744.88,144.2 L745.48,143.3 L746.08,142.3 L746.68,141.2 L747.28,139.9 L747.88,139.0 L748.48,137.4 L749.08,135.1 L749.68,133.8 L750.28,133.4 L750.88,132.6 L751.48,132.5 L752.08,132.3 L752.68,132.1 L753.28,131.8 L753.88,131.6 L754.48,131.3 L755.08,131.2 L755.68,131.0 L756.28,130.7 L756.88,130.0 L757.48,129.4 L758.08,128.1 L758.68,126.5 L759.28,125.2 L759.88,125.3 L760.48,124.4 L761.08,124.3 L761.68,127.3 L762.28,129.0 L762.88,126.9 L763.48,123.9 L764.08,120.6 L764.68,118.6 L765.28,119.0 L765.88,119.5 L766.48,121.1 L767.08,122.4 L767.68,124.2 L768.28,124.8 L768.88,125.2 L769.48,116.5 L770.08,113.9 L770.68,118.2 L771.28,122.9 L771.88,125.1 L772.48,123.7 L773.08,118.8 L773.68,113.0 L774.28,108.6 L774.88,107.2 L775.48,109.4 L776.08,111.0 L776.68,113.7 L777.28,112.3 L777.88,110.5 L778.48,105.8 L779.08,103.6 L779.68,101.6 L780.28,102.4 L780.88,105.2 L781.48,107.1 L782.08,109.9 L782.68,111.7 L783.28,111.7 L783.88,109.9 L784.48,106.3 L785.08,103.2 L785.68,107.0 L786.28,120.5 L786.88,128.0 L787.48,120.8 L788.08,111.5 L788.68,104.1 L789.28,105.3 L789.88,109.1 L790.48,118.5"/>
<path d="M105.28,305.0 L105.88,304.9 L106.48,305.1 L107.08,305.3 L107.68,305.2 L108.28,305.5 L108.88,304.8 L109.48,305.1 L110.08,305.6 L110.68,305.5 L111.28,305.6 L111.88,305.5 L112.48,306.2 L113.08,306.7 L113.68,305.7 L114.28,306.7 L114.88,305.7 L115.48,306.4 L116.08,305.6 L116.68,306.7 L117.28,306.5 L117.88,306.7 L118.48,307.3 L119.08,307.1 L119.68,307.0 L120.28,306.6 L120.88,307.1 L121.48,306.8 L122.08,307.0 L122.68,308.0 L123.28,307.8 L123.88,307.6 L124.48,307.9 L125.08,306.9 L125.68,307.8 L126.28,306.9 L126.88,307.5 L127.48,308.1 L128.08,308.2 L128.68,308.4 L129.28,308.2 L129.88,308.2 L130.48,308.3 L131.08,309.1 L131.68,309.1 L132.28,307.8 L132.88,308.7 L133.48,309.3 L134.08,308.6 L134.68,308.9 L135.28,308.6 L135.88,308.4 L136.48,309.2 L137.08,308.9 L137.68,309.1 L138.28,308.5 L138.88,308.8 L139.48,309.4 L140.08,309.4 L140.68,309.9 L141.28,309.2 L141.88,310.1 L142.48,310.1 L143.08,310.0 L143.68,310.3 L144.28,310.1 L144.88,310.1 L145.48,310.3 L146.08,309.7 L146.68,310.4 L147.28,310.9 L147.88,309.8 L148.48,311.1 L149.08,310.5 L149.68,310.7 L150.28,311.0 L150.88,311.2 L151.48,311.8 L152.08,311.2 L152.68,312.2 L153.28,311.5 L153.88,311.8 L154.48,312.0 L155.08,311.4 L155.68,311.3 L156.28,312.1 L156.88,312.5 L157.48,312.7 L158.08,312.2 L158.68,313.3 L159.28,312.5 L159.88,312.4 L160.48,313.4 L161.08,313.6 L161.68,312.6 L162.28,313.5 L162.88,312.5 L163.48,313.2 L164.08,314.4 L164.68,314.1 L165.28,313.9 L165.88,313.9 L166.48,313.3 L167.08,313.9 L167.68,313.9 L168.28,313.3 L168.88,313.9 L169.48,313.9 L170.08,313.6 L170.68,313.5 L171.28,312.9 L171.88,312.2 L172.48,312.5 L173.08,311.3 L173.68,311.6 L174.28,312.0 L174.88,311.9 L175.48,310.9 L176.08,309.4 L176.68,310.4 L177.28,309.8 L177.88,309.1 L178.48,309.0 L179.08,308.5 L179.68,307.5 L180.28,307.1 L180.88,307.4 L181.48,306.2 L182.08,306.5 L182.68,306.0 L183.28,305.7 L183.88,305.4 L184.48,304.9 L185.08,304.6 L185.68,304.1 L186.28,303.6 L186.88,303.3 L187.48,302.7 L188.08,302.1 L188.68,301.9 L189.28,301.2 L189.88,301.1 L190.48,301.1 L191.08,300.4 L191.68,299.9 L192.28,299.3 L192.88,298.8 L193.48,298.6 L194.08,298.2 L194.68,297.9 L195.28,297.5 L195.88,297.1 L196.48,296.4 L197.08,296.6 L197.68,296.0 L198.28,295.6 L198.88,295.2 L199.48,294.9 L200.08,294.6 L200.68,294.1 L201.28,293.5 L201.88,293.1 L202.48,292.6 L203.08,292.7 L203.68,292.4 L204.28,292.1 L204.88,291.5 L205.48,291.3 L206.08,290.7 L206.68,290.6 L207.28,290.1 L207.88,289.7 L208.48,289.2 L209.08,289.3 L209.68,288.5 L210.28,288.7 L210.88,288.1 L211.48,288.1 L212.08,287.6 L212.68,287.6 L213.28,287.2 L213.88,286.8 L214.48,286.8 L215.08,286.4 L215.68,286.5 L216.28,286.5 L216.88,286.2 L217.48,286.0 L218.08,286.1 L218.68,285.7 L219.28,285.8 L219.88,285.7 L220.48,285.5 L221.08,285.6 L221.68,285.3 L222.28,285.5 L222.88,285.6 L223.48,285.3 L224.08,285.5 L224.68,285.6 L225.28,285.6 L225.88,285.3 L226.48,285.7 L227.08,285.5 L227.68,285.6 L228.28,285.5 L228.88,285.7 L229.48,285.5 L230.08,285.7 L230.68,285.7 L231.28,285.8 L231.88,285.6 L232.48,285.9 L233.08,285.7 L233.68,285.9 L234.28,285.7 L234.88,285.7 L235.48,285.9 L236.08,285.9 L236.68,285.9 L237.28,285.7 L237.88,285.5 L238.48,285.7 L239.08,285.9 L239.68,286.1 L240.28,286.0 L240.88,285.9 L241.48,286.0 L242.08,286.0 L242.68,286.5 L243.28,286.3 L243.88,286.2 L244.48,286.0 L245.08,286.2 L245.68,286.2 L246.28,286.3 L246.88,286.6 L247.48,286.3 L248.08,286.1 L248.68,286.4 L249.28,286.2 L249.88,286.6 L250.48,286.6 L251.08,286.5 L251.68,286.3 L252.28,286.6 L252.88,286.8 L253.48,286.5 L254.08,286.6 L254.68,286.7 L255.28,286.8 L255.88,286.8 L256.48,286.9 L257.08,287.0 L257.68,286.8 L258.28,286.9 L258.88,287.0 L259.48,286.9 L260.08,287.1 L260.68,287.2 L261.28,287.3 L261.88,287.3 L262.48,287.2 L263.08,287.2 L263.68,287.5 L264.28,287.5 L264.88,287.6 L265.48,287.6 L266.08,287.4 L266.68,287.7 L267.28,287.6 L267.88,287.8 L268.48,288.0 L269.08,288.1 L269.68,288.2 L270.28,287.9 L270.88,287.8 L271.48,288.1 L272.08,288.1 L272.68,288.2 L273.28,288.6 L273.88,288.3 L274.48,288.8 L275.08,288.9 L275.68,289.2 L276.28,289.0 L276.88,289.3 L277.48,289.0 L278.08,289.0 L278.68,289.3 L279.28,289.0 L279.88,289.5 L280.48,289.4 L281.08,289.2 L281.68,290.0 L282.28,289.5 L282.88,290.2 L283.48,289.6 L284.08,289.8 L284.68,290.1 L285.28,290.1 L285.88,290.0 L286.48,290.3 L287.08,290.4 L287.68,290.5 L288.28,290.3 L288.88,290.5 L289.48,290.7 L290.08,291.0 L290.68,291.0 L291.28,291.0 L291.88,291.1 L292.48,291.5 L293.08,291.3 L293.68,291.6 L294.28,291.3 L294.88,292.0 L295.48,291.9 L296.08,291.7 L296.68,292.2 L297.28,292.4 L297.88,292.5 L298.48,292.5 L299.08,292.7 L299.68,292.5 L300.28,292.6 L300.88,292.7 L301.48,292.9 L302.08,292.8 L302.68,293.2 L303.28,293.0 L303.88,292.8 L304.48,292.9 L305.08,293.0 L305.68,292.9 L306.28,293.0 L306.88,292.6 L307.48,292.4 L308.08,292.4 L308.68,292.3 L309.28,291.8 L309.88,291.6 L310.48,291.7 L311.08,291.8 L311.68,291.9 L312.28,292.6 L312.88,293.0 L313.48,293.8 L314.08,294.1 L314.68,294.5 L315.28,295.1 L315.88,295.6 L316.48,296.0 L317.08,296.0 L317.68,296.5 L318.28,296.8 L318.88,297.0 L319.48,296.6 L320.08,296.5 L320.68,296.6 L321.28,296.3 L321.88,296.5 L322.48,296.2 L323.08,296.2 L323.68,295.9 L324.28,296.1 L324.88,296.4 L325.48,296.4 L326.08,296.7 L326.68,297.4 L327.28,297.6 L327.88,298.0 L328.48,298.1 L329.08,298.5 L329.68,298.5 L330.28,298.8 L330.88,299.1 L331.48,299.3 L332.08,299.1 L332.68,299.7 L333.28,299.6 L333.88,300.0 L334.48,300.1 L335.08,300.3 L335.68,300.5 L336.28,300.6 L336.88,300.9 L337.48,301.0 L338.08,301.3 L338.68,301.4 L339.28,301.4 L339.88,301.9 L340.48,302.2 L341.08,302.0 L341.68,302.0 L342.28,302.0 L342.88,302.4 L343.48,302.4 L344.08,302.9 L344.68,302.9 L345.28,303.0 L345.88,303.3 L346.48,303.3 L347.08,303.5 L347.68,303.9 L348.28,304.4 L348.88,304.2 L349.48,304.7 L350.08,304.4 L350.68,304.9 L351.28,305.2 L351.88,305.7 L352.48,305.4 L353.08,305.8 L353.68,305.8 L354.28,306.2 L354.88,306.3 L355.48,306.6 L356.08,306.7 L356.68,307.0 L357.28,307.3 L357.88,307.6 L358.48,307.6 L359.08,307.8 L359.68,307.9 L360.28,308.5 L360.88,308.2 L361.48,308.3 L362.08,308.6 L362.68,308.9 L363.28,309.2 L363.88,309.3 L364.48,309.6 L365.08,309.7 L365.68,309.7 L366.28,309.7 L366.88,310.1 L367.48,310.0 L368.08,310.4 L368.68,310.6 L369.28,310.6 L369.88,310.7 L370.48,310.8 L371.08,311.1 L371.68,311.2 L372.28,311.2 L372.88,311.5 L373.48,311.9 L374.08,311.8 L374.68,311.9 L375.28,311.9 L375.88,311.9 L376.48,312.2 L377.08,312.3 L377.68,312.4 L378.28,312.7 L378.88,312.6 L379.48,312.8 L380.08,313.0 L380.68,313.2 L381.28,313.0 L381.88,313.4 L382.48,313.6 L383.08,313.3 L383.68,313.6 L384.28,313.6 L384.88,313.7 L385.48,314.0 L386.08,314.1 L386.68,313.9 L387.28,314.3 L387.88,314.6 L388.48,314.5 L389.08,314.6 L389.68,314.9 L390.28,315.0 L390.88,315.3 L391.48,315.1 L392.08,315.2 L392.68,315.6 L393.28,315.8 L393.88,315.9 L394.48,316.1 L395.08,315.9 L395.68,315.9 L396.28,316.2 L396.88,316.4 L397.48,316.3 L398.08,316.7 L398.68,316.9 L399.28,316.9 L399.88,317.4 L400.48,317.3 L401.08,317.1 L401.68,317.3 L402.28,317.5 L402.88,317.8 L403.48,317.8 L404.08,317.7 L404.68,317.9 L405.28,318.1 L405.88,318.1 L406.48,317.9 L407.08,318.0 L407.68,318.1 L408.28,318.0 L408.88,318.4 L409.48,318.2 L410.08,318.2 L410.68,318.1 L411.28,318.1 L411.88,318.0 L412.48,317.9 L413.08,317.8 L413.68,317.3 L414.28,317.4 L414.88,317.0 L415.48,315.9 L416.08,315.4 L416.68,315.1 L417.28,315.1 L417.88,315.1 L418.48,315.5 L419.08,316.5 L419.68,316.8 L420.28,317.1 L420.88,318.2 L421.48,318.7 L422.08,319.2 L422.68,319.6 L423.28,320.2 L423.88,319.9 L424.48,320.2 L425.08,320.4 L425.68,321.1 L426.28,321.1 L426.88,321.2 L427.48,321.4 L428.08,321.9 L428.68,322.0 L429.28,322.3 L429.88,322.4 L430.48,322.6 L431.08,323.1 L431.68,323.2 L432.28,323.5 L432.88,323.5 L433.48,323.6 L434.08,323.9 L434.68,324.0 L435.28,324.3 L435.88,324.5 L436.48,324.5 L437.08,324.6 L437.68,324.8 L438.28,325.0 L438.88,325.1 L439.48,325.3 L440.08,325.5 L440.68,325.5 L441.28,325.6 L441.88,325.6 L442.48,325.6 L443.08,326.1 L443.68,325.9 L444.28,326.3 L444.88,326.6 L445.48,326.6 L446.08,326.5 L446.68,326.9 L447.28,326.9 L447.88,326.9 L448.48,327.2 L449.08,327.2 L449.68,327.3 L450.28,327.4 L450.88,327.3 L451.48,327.8 L452.08,328.2 L452.68,328.0 L453.28,327.9 L453.88,328.1 L454.48,328.4 L455.08,328.3 L455.68,328.6 L456.28,329.1 L456.88,328.7 L457.48,328.9 L458.08,328.9 L458.68,329.0 L459.28,329.2 L459.88,329.2 L460.48,329.5 L461.08,329.6 L461.68,329.8 L462.28,329.9 L462.88,329.9 L463.48,330.2 L464.08,330.1 L464.68,330.4 L465.28,330.3 L465.88,330.7 L466.48,330.5 L467.08,330.8 L467.68,330.7 L468.28,331.0 L468.88,331.0 L469.48,331.1 L470.08,331.2 L470.68,331.5 L471.28,331.7 L471.88,331.9 L472.48,332.0 L473.08,332.0 L473.68,332.3 L474.28,332.5 L474.88,332.3 L475.48,332.4 L476.08,332.8 L476.68,333.2 L477.28,333.1 L477.88,333.1 L478.48,333.1 L479.08,333.3 L479.68,333.4 L480.28,333.6 L480.88,334.0 L481.48,334.2 L482.08,334.2 L482.68,334.3 L483.28,334.5 L483.88,334.5 L484.48,334.7 L485.08,335.0 L485.68,335.1 L486.28,335.4 L486.88,335.8 L487.48,335.4 L488.08,335.6 L488.68,335.7 L489.28,335.9 L489.88,336.1 L490.48,336.3 L491.08,336.3 L491.68,336.3 L492.28,336.7 L492.88,336.8 L493.48,337.1 L494.08,337.2 L494.68,337.4 L495.28,337.5 L495.88,337.3 L496.48,338.0 L497.08,337.9 L497.68,338.2 L498.28,338.4 L498.88,338.4 L499.48,338.4 L500.08,338.8 L500.68,338.8 L501.28,339.1 L501.88,339.3 L502.48,339.4 L503.08,339.3 L503.68,339.6 L504.28,339.9 L504.88,339.9 L505.48,340.4 L506.08,340.2 L506.68,340.5 L507.28,340.5 L507.88,340.7 L508.48,341.1 L509.08,341.2 L509.68,341.2 L510.28,341.4 L510.88,341.8 L511.48,341.7 L512.08,341.8 L512.68,342.3 L513.28,342.0 L513.88,342.4 L514.48,342.7 L515.08,342.8 L515.68,343.1 L516.28,343.1 L516.88,342.9 L517.48,343.4 L518.08,343.4 L518.68,343.4 L519.28,343.5 L519.88,343.6 L520.48,343.5 L521.08,344.0 L521.68,344.2 L522.28,344.3 L522.88,344.2 L523.48,344.4 L524.08,344.7 L524.68,344.7 L525.28,344.7 L525.88,344.7 L526.48,344.9 L527.08,345.2 L527.68,345.1 L528.28,345.5 L528.88,345.6 L529.48,345.4 L530.08,345.2 L530.68,345.5 L531.28,345.9 L531.88,345.7 L532.48,345.7 L533.08,345.8 L533.68,346.3 L534.28,345.9 L534.88,345.7 L535.48,346.1 L536.08,346.2 L536.68,346.2 L537.28,346.2 L537.88,346.3 L538.48,346.2 L539.08,346.4 L539.68,346.3 L540.28,346.3 L540.88,346.1 L541.48,346.3 L542.08,346.1 L542.68,345.9 L543.28,345.9 L543.88,345.6 L544.48,345.5 L545.08,345.5 L545.68,345.2 L546.28,345.1 L546.88,344.9 L547.48,344.5 L548.08,344.3 L548.68,344.2 L549.28,343.4 L549.88,342.6 L550.48,342.3 L551.08,341.7 L551.68,341.3 L552.28,340.8 L552.88,340.0 L553.48,339.5 L554.08,338.8 L554.68,338.2 L555.28,337.5 L555.88,337.1 L556.48,337.0 L557.08,337.2 L557.68,337.0 L558.28,337.9 L558.88,338.4 L559.48,339.4 L560.08,340.1 L560.68,340.9 L561.28,341.7 L561.88,342.7 L562.48,343.3 L563.08,344.3 L563.68,345.0 L564.28,346.1 L564.88,346.7 L565.48,347.4 L566.08,347.9 L566.68,348.4 L567.28,348.6 L567.88,349.1 L568.48,349.8 L569.08,349.9 L569.68,350.3 L570.28,350.5 L570.88,350.6 L571.48,351.2 L572.08,351.5 L572.68,352.0 L573.28,351.8 L573.88,352.3 L574.48,352.7 L575.08,352.8 L575.68,353.0 L576.28,353.8 L576.88,354.1 L577.48,354.3 L578.08,354.6 L578.68,354.9 L579.28,355.4 L579.88,355.7 L580.48,355.9 L581.08,356.4 L581.68,356.9 L582.28,357.0 L582.88,357.6 L583.48,357.7 L584.08,358.1 L584.68,358.5 L585.28,358.8 L585.88,359.1 L586.48,359.1 L587.08,359.6 L587.68,360.2 L588.28,360.3 L588.88,360.8 L589.48,361.0 L590.08,361.4 L590.68,362.1 L591.28,362.2 L591.88,362.4 L592.48,362.8 L593.08,363.0 L593.68,363.7 L594.28,363.9 L594.88,364.3 L595.48,364.6 L596.08,364.8 L596.68,365.2 L597.28,365.5 L597.88,366.1 L598.48,366.5 L599.08,367.0 L599.68,367.0 L600.28,367.6 L600.88,367.8 L601.48,368.4 L602.08,369.0 L602.68,369.4 L603.28,369.7 L603.88,370.1 L604.48,370.8 L605.08,371.2 L605.68,371.7 L606.28,372.2 L606.88,373.2 L607.48,373.5 L608.08,373.8 L608.68,374.6 L609.28,374.9 L609.88,375.3 L610.48,376.0 L611.08,376.7 L611.68,376.8 L612.28,377.6 L612.88,378.1 L613.48,378.6 L614.08,378.9 L614.68,379.4 L615.28,379.3 L615.88,379.9 L616.48,380.4 L617.08,380.6 L617.68,380.9 L618.28,380.9 L618.88,381.4 L619.48,381.4 L620.08,381.8 L620.68,382.0 L621.28,381.9 L621.88,382.0 L622.48,381.7 L623.08,381.6 L623.68,381.1 L624.28,380.5 L624.88,380.0 L625.48,379.0 L626.08,377.7 L626.68,376.1 L627.28,374.3 L627.88,372.8 L628.48,371.2 L629.08,369.8 L629.68,368.0 L630.28,366.9 L630.88,365.3 L631.48,363.9 L632.08,362.7 L632.68,361.9 L633.28,360.8 L633.88,360.1 L634.48,359.7 L635.08,359.0 L635.68,358.5 L636.28,358.2 L636.88,357.9 L637.48,358.2 L638.08,358.0 L638.68,358.2 L639.28,358.3 L639.88,358.2 L640.48,358.6 L641.08,358.5 L641.68,358.5 L642.28,358.6 L642.88,358.5 L643.48,358.5 L644.08,358.0 L644.68,357.0 L645.28,355.6 L645.88,354.8 L646.48,354.0 L647.08,353.0 L647.68,352.1 L648.28,350.9 L648.88,350.8 L649.48,350.6 L650.08,350.8 L650.68,350.7 L651.28,351.1 L651.88,351.8 L652.48,352.2 L653.08,353.0 L653.68,353.8 L654.28,354.7 L654.88,355.5 L655.48,356.9 L656.08,358.0 L656.68,358.7 L657.28,359.9 L657.88,360.5 L658.48,361.6 L659.08,362.5 L659.68,362.6 L660.28,362.2 L660.88,361.3 L661.48,359.8 L662.08,358.4 L662.68,357.1 L663.28,356.0 L663.88,354.4 L664.48,353.5 L665.08,351.8 L665.68,351.1 L666.28,351.2 L666.88,351.5 L667.48,351.8 L668.08,352.4 L668.68,352.6 L669.28,353.0 L669.88,353.9 L670.48,354.7 L671.08,356.0 L671.68,357.0 L672.28,357.5 L672.88,357.1 L673.48,356.9 L674.08,355.8 L674.68,355.2 L675.28,354.1 L675.88,353.3 L676.48,352.6 L677.08,351.3 L677.68,350.7 L678.28,349.6 L678.88,348.8 L679.48,347.5 L680.08,346.6 L680.68,345.8 L681.28,344.7 L681.88,344.1 L682.48,343.0 L683.08,342.2 L683.68,341.4 L684.28,340.5 L684.88,339.4 L685.48,338.8 L686.08,337.9 L686.68,336.7 L687.28,335.9 L687.88,334.9 L688.48,334.5 L689.08,333.7 L689.68,332.6 L690.28,331.9 L690.88,331.2 L691.48,330.4 L692.08,329.6 L692.68,329.1 L693.28,328.0 L693.88,327.5 L694.48,326.5 L695.08,325.7 L695.68,324.7 L696.28,323.7 L696.88,323.0 L697.48,322.2 L698.08,321.1 L698.68,319.8 L699.28,318.9 L699.88,317.6 L700.48,316.2 L701.08,315.0 L701.68,313.7 L702.28,312.3 L702.88,310.9 L703.48,309.5 L704.08,307.9 L704.68,306.5 L705.28,305.0 L705.88,304.2 L706.48,302.7 L707.08,301.5 L707.68,299.8 L708.28,298.5 L708.88,297.2 L709.48,295.9 L710.08,294.7 L710.68,293.6 L711.28,292.4 L711.88,291.2 L712.48,289.9 L713.08,288.6 L713.68,287.9 L714.28,286.7 L714.88,285.5 L715.48,284.2 L716.08,283.3 L716.68,281.9 L717.28,280.8 L717.88,280.1 L718.48,279.0 L719.08,278.0 L719.68,276.4 L720.28,275.3 L720.88,273.9 L721.48,273.1 L722.08,272.4 L722.68,271.4 L723.28,270.1 L723.88,268.9 L724.48,268.0 L725.08,266.9 L725.68,266.0 L726.28,265.5 L726.88,264.6 L727.48,263.9 L728.08,262.9 L728.68,261.5 L729.28,260.9 L729.88,259.4 L730.48,258.5 L731.08,258.1 L731.68,256.6 L732.28,255.8 L732.88,254.8 L733.48,253.7 L734.08,252.7 L734.68,251.4 L735.28,250.4 L735.88,249.4 L736.48,248.3 L737.08,247.6 L737.68,246.4 L738.28,245.7 L738.88,244.9 L739.48,244.6 L740.08,243.5 L740.68,242.6 L741.28,241.6 L741.88,240.7 L742.48,240.6 L743.08,239.6 L743.68,239.7 L744.28,238.7 L744.88,238.7 L745.48,237.6 L746.08,237.4 L746.68,236.9 L747.28,236.3 L747.88,235.7 L748.48,234.8 L749.08,234.6 L749.68,233.2 L750.28,233.1 L750.88,231.2 L751.48,230.2 L752.08,229.1 L752.68,227.8 L753.28,227.1 L753.88,225.8 L754.48,225.2 L755.08,224.8 L755.68,224.9 L756.28,224.1 L756.88,222.8 L757.48,222.9 L758.08,222.3 L758.68,222.4 L759.28,222.4 L759.88,222.2 L760.48,222.2 L761.08,222.2 L761.68,220.7 L762.28,220.9 L762.88,221.2 L763.48,221.6 L764.08,221.8 L764.68,222.1 L765.28,221.6 L765.88,221.5 L766.48,220.7 L767.08,221.4 L767.68,221.1 L768.28,221.9 L768.88,222.4 L769.48,221.7 L770.08,221.8 L770.68,221.8 L771.28,221.9 L771.88,220.7 L772.48,219.5 L773.08,216.8 L773.68,213.9 L774.28,213.2 L774.88,218.0 L775.48,217.2 L776.08,215.0 L776.68,214.9 L777.28,218.5 L777.88,218.1 L778.48,214.9 L779.08,214.7 L779.68,219.0 L780.28,219.2 L780.88,216.0 L781.48,216.1 L782.08,220.3 L782.68,211.4 L783.28,215.5 L783.88,218.9 L784.48,216.4 L785.08,216.9 L785.68,222.8 L786.28,220.9 L786.88,230.2 L787.48,233.3 L788.08,230.2 L788.68,239.6 L789.28,240.8 L789.88,239.3 L790.48,244.9"/>
<path d="M105.28,349.9 L105.88,349.4 L106.48,349.7 L107.08,349.5 L107.68,349.6 L108.28,349.6 L108.88,349.5 L109.48,350.1 L110.08,350.1 L110.68,349.6 L111.28,350.6 L111.88,349.8 L112.48,349.8 L113.08,350.0 L113.68,349.5 L114.28,350.5 L114.88,349.6 L115.48,349.5 L116.08,350.5 L116.68,349.7 L117.28,349.9 L117.88,349.5 L118.48,349.9 L119.08,350.2 L119.68,349.0 L120.28,350.2 L120.88,349.8 L121.48,351.0 L122.08,351.5 L122.68,350.7 L123.28,350.8 L123.88,351.2 L124.48,351.2 L125.08,349.3 L125.68,349.3 L126.28,350.0 L126.88,349.3 L127.48,350.3 L128.08,350.7 L128.68,349.8 L129.28,351.1 L129.88,352.1 L130.48,350.8 L131.08,351.2 L131.68,350.8 L132.28,350.8 L132.88,350.4 L133.48,349.8 L134.08,351.4 L134.68,352.0 L135.28,351.0 L135.88,351.2 L136.48,349.8 L137.08,350.9 L137.68,351.5 L138.28,351.1 L138.88,351.4 L139.48,350.4 L140.08,350.3 L140.68,351.3 L141.28,353.0 L141.88,351.2 L142.48,350.1 L143.08,351.0 L143.68,351.5 L144.28,353.0 L144.88,352.9 L145.48,351.1 L146.08,350.9 L146.68,351.7 L147.28,352.0 L147.88,351.1 L148.48,353.0 L149.08,351.7 L149.68,352.4 L150.28,352.0 L150.88,352.7 L151.48,352.2 L152.08,352.6 L152.68,353.6 L153.28,352.6 L153.88,353.8 L154.48,351.1 L155.08,352.1 L155.68,351.4 L156.28,351.1 L156.88,352.5 L157.48,354.4 L158.08,352.8 L158.68,353.5 L159.28,350.7 L159.88,352.8 L160.48,351.5 L161.08,352.8 L161.68,353.6 L162.28,352.1 L162.88,353.6 L163.48,351.7 L164.08,352.7 L164.68,352.0 L165.28,352.8 L165.88,352.5 L166.48,350.5 L167.08,352.3 L167.68,352.2 L168.28,354.3 L168.88,350.3 L169.48,352.8 L170.08,353.5 L170.68,354.6 L171.28,354.0 L171.88,352.7 L172.48,354.2 L173.08,352.7 L173.68,352.6 L174.28,352.5 L174.88,352.4 L175.48,354.2 L176.08,351.1 L176.68,351.3 L177.28,353.8 L177.88,353.3 L178.48,353.7 L179.08,352.6 L179.68,353.4 L180.28,352.6 L180.88,352.4 L181.48,352.5 L182.08,353.1 L182.68,353.0 L183.28,352.5 L183.88,354.4 L184.48,353.4 L185.08,352.6 L185.68,351.7 L186.28,353.0 L186.88,351.4 L187.48,352.1 L188.08,351.9 L188.68,352.2 L189.28,353.3 L189.88,350.5 L190.48,354.3 L191.08,353.5 L191.68,353.0 L192.28,352.9 L192.88,353.7 L193.48,353.3 L194.08,354.2 L194.68,353.4 L195.28,353.2 L195.88,353.1 L196.48,353.4 L197.08,353.8 L197.68,353.2 L198.28,354.0 L198.88,353.9 L199.48,353.5 L200.08,353.9 L200.68,353.1 L201.28,353.0 L201.88,353.7 L202.48,353.8 L203.08,353.8 L203.68,353.7 L204.28,353.3 L204.88,353.9 L205.48,353.6 L206.08,354.0 L206.68,353.8 L207.28,353.4 L207.88,353.8 L208.48,353.8 L209.08,353.8 L209.68,353.4 L210.28,353.3 L210.88,353.8 L211.48,353.5 L212.08,353.4 L212.68,353.7 L213.28,353.7 L213.88,353.5 L214.48,353.3 L215.08,353.8 L215.68,353.1 L216.28,353.3 L216.88,353.3 L217.48,352.8 L218.08,353.0 L218.68,353.4 L219.28,353.2 L219.88,352.8 L220.48,353.5 L221.08,353.0 L221.68,352.9 L222.28,353.4 L222.88,352.5 L223.48,352.8 L224.08,352.6 L224.68,353.1 L225.28,352.5 L225.88,353.3 L226.48,352.8 L227.08,352.8 L227.68,353.0 L228.28,352.6 L228.88,352.3 L229.48,352.4 L230.08,352.5 L230.68,352.2 L231.28,352.6 L231.88,352.4 L232.48,352.4 L233.08,352.4 L233.68,352.8 L234.28,353.0 L234.88,352.8 L235.48,352.3 L236.08,352.1 L236.68,352.6 L237.28,352.7 L237.88,352.5 L238.48,352.1 L239.08,352.4 L239.68,352.2 L240.28,352.5 L240.88,352.5 L241.48,352.3 L242.08,352.1 L242.68,352.6 L243.28,352.2 L243.88,352.4 L244.48,352.3 L245.08,352.3 L245.68,352.4 L246.28,351.9 L246.88,351.9 L247.48,352.1 L248.08,351.1 L248.68,352.0 L249.28,351.8 L249.88,352.1 L250.48,352.0 L251.08,351.9 L251.68,351.6 L252.28,351.9 L252.88,351.8 L253.48,351.9 L254.08,351.9 L254.68,351.6 L255.28,352.0 L255.88,351.7 L256.48,352.0 L257.08,352.0 L257.68,352.2 L258.28,351.8 L258.88,352.2 L259.48,351.7 L260.08,351.6 L260.68,352.0 L261.28,351.5 L261.88,351.9 L262.48,351.8 L263.08,351.8 L263.68,351.8 L264.28,351.8 L264.88,352.1 L265.48,351.8 L266.08,351.2 L266.68,351.6 L267.28,351.9 L267.88,352.0 L268.48,351.9 L269.08,351.8 L269.68,351.5 L270.28,352.2 L270.88,351.6 L271.48,351.5 L272.08,351.1 L272.68,352.3 L273.28,351.8 L273.88,351.4 L274.48,352.1 L275.08,352.0 L275.68,351.4 L276.28,352.1 L276.88,351.9 L277.48,352.1 L278.08,352.3 L278.68,351.8 L279.28,352.5 L279.88,351.9 L280.48,351.9 L281.08,352.4 L281.68,351.9 L282.28,352.0 L282.88,352.3 L283.48,351.8 L284.08,351.7 L284.68,352.2 L285.28,352.1 L285.88,352.0 L286.48,352.4 L287.08,351.8 L287.68,352.3 L288.28,351.9 L288.88,352.3 L289.48,351.9 L290.08,352.5 L290.68,352.3 L291.28,352.2 L291.88,352.3 L292.48,352.2 L293.08,352.6 L293.68,352.2 L294.28,352.6 L294.88,352.4 L295.48,352.3 L296.08,352.3 L296.68,352.2 L297.28,352.6 L297.88,352.6 L298.48,352.8 L299.08,352.3 L299.68,352.6 L300.28,353.1 L300.88,353.1 L301.48,352.9 L302.08,353.0 L302.68,353.2 L303.28,353.5 L303.88,353.6 L304.48,353.3 L305.08,353.4 L305.68,353.4 L306.28,353.7 L306.88,354.2 L307.48,353.7 L308.08,354.1 L308.68,353.8 L309.28,354.0 L309.88,353.9 L310.48,354.3 L311.08,354.8 L311.68,354.8 L312.28,354.5 L312.88,354.3 L313.48,354.5 L314.08,353.9 L314.68,353.8 L315.28,353.8 L315.88,353.9 L316.48,353.5 L317.08,353.7 L317.68,354.4 L318.28,353.9 L318.88,353.9 L319.48,353.9 L320.08,354.2 L320.68,354.2 L321.28,354.0 L321.88,354.0 L322.48,353.5 L323.08,353.7 L323.68,354.0 L324.28,354.0 L324.88,354.0 L325.48,354.0 L326.08,354.7 L326.68,354.5 L327.28,354.0 L327.88,354.5 L328.48,354.4 L329.08,354.3 L329.68,354.3 L330.28,354.5 L330.88,355.0 L331.48,354.4 L332.08,354.6 L332.68,354.6 L333.28,354.2 L333.88,354.7 L334.48,354.5 L335.08,354.8 L335.68,354.9 L336.28,355.3 L336.88,354.9 L337.48,354.9 L338.08,355.2 L338.68,355.6 L339.28,355.2 L339.88,355.3 L340.48,355.3 L341.08,355.3 L341.68,355.1 L342.28,355.1 L342.88,355.2 L343.48,355.3 L344.08,355.6 L344.68,355.3 L345.28,355.3 L345.88,355.5 L346.48,355.5 L347.08,355.6 L347.68,355.3 L348.28,356.1 L348.88,355.6 L349.48,355.6 L350.08,355.5 L350.68,355.9 L351.28,356.1 L351.88,355.9 L352.48,356.0 L353.08,355.9 L353.68,356.5 L354.28,356.1 L354.88,355.9 L355.48,356.1 L356.08,356.4 L356.68,356.2 L357.28,356.3 L357.88,356.3 L358.48,356.2 L359.08,356.4 L359.68,356.7 L360.28,356.5 L360.88,356.4 L361.48,356.3 L362.08,356.5 L362.68,356.4 L363.28,356.4 L363.88,356.8 L364.48,356.8 L365.08,357.1 L365.68,356.9 L366.28,356.7 L366.88,357.0 L367.48,356.9 L368.08,357.2 L368.68,356.7 L369.28,356.9 L369.88,357.0 L370.48,357.4 L371.08,357.2 L371.68,356.9 L372.28,357.0 L372.88,357.4 L373.48,356.9 L374.08,357.1 L374.68,357.3 L375.28,357.3 L375.88,357.5 L376.48,357.7 L377.08,357.6 L377.68,357.3 L378.28,358.0 L378.88,357.9 L379.48,357.5 L380.08,357.7 L380.68,357.5 L381.28,358.2 L381.88,357.8 L382.48,358.0 L383.08,358.0 L383.68,358.2 L384.28,358.0 L384.88,358.0 L385.48,358.3 L386.08,358.4 L386.68,358.0 L387.28,358.1 L387.88,357.8 L388.48,358.5 L389.08,358.1 L389.68,358.6 L390.28,358.6 L390.88,358.6 L391.48,358.7 L392.08,358.3 L392.68,358.6 L393.28,358.4 L393.88,358.6 L394.48,358.5 L395.08,359.2 L395.68,358.8 L396.28,359.0 L396.88,358.7 L397.48,359.3 L398.08,358.9 L398.68,359.0 L399.28,359.0 L399.88,358.7 L400.48,358.7 L401.08,359.3 L401.68,359.1 L402.28,359.4 L402.88,360.0 L403.48,359.5 L404.08,360.1 L404.68,359.8 L405.28,359.5 L405.88,360.0 L406.48,360.3 L407.08,360.3 L407.68,360.0 L408.28,360.0 L408.88,360.6 L409.48,360.9 L410.08,361.0 L410.68,360.7 L411.28,361.0 L411.88,361.3 L412.48,361.9 L413.08,362.1 L413.68,362.7 L414.28,363.7 L414.88,364.8 L415.48,367.3 L416.08,371.7 L416.68,375.7 L417.28,375.9 L417.88,372.9 L418.48,370.5 L419.08,369.0 L419.68,369.7 L420.28,370.9 L420.88,371.9 L421.48,371.8 L422.08,370.3 L422.68,369.1 L423.28,367.0 L423.88,366.7 L424.48,366.1 L425.08,365.6 L425.68,364.8 L426.28,364.7 L426.88,364.4 L427.48,364.1 L428.08,363.7 L428.68,364.1 L429.28,363.9 L429.88,363.7 L430.48,364.1 L431.08,363.6 L431.68,364.0 L432.28,364.3 L432.88,364.1 L433.48,363.9 L434.08,364.1 L434.68,364.0 L435.28,364.0 L435.88,364.0 L436.48,364.2 L437.08,364.3 L437.68,364.4 L438.28,364.3 L438.88,364.7 L439.48,365.0 L440.08,364.7 L440.68,365.3 L441.28,364.8 L441.88,364.9 L442.48,365.0 L443.08,365.0 L443.68,365.0 L444.28,365.2 L444.88,365.5 L445.48,365.4 L446.08,366.0 L446.68,365.8 L447.28,365.8 L447.88,365.9 L448.48,366.2 L449.08,366.2 L449.68,366.3 L450.28,366.4 L450.88,366.7 L451.48,366.2 L452.08,366.7 L452.68,366.6 L453.28,366.7 L453.88,366.6 L454.48,366.9 L455.08,367.0 L455.68,367.1 L456.28,366.9 L456.88,367.3 L457.48,367.0 L458.08,366.9 L458.68,367.5 L459.28,367.4 L459.88,367.1 L460.48,367.5 L461.08,367.7 L461.68,367.9 L462.28,367.7 L462.88,367.6 L463.48,367.7 L464.08,367.7 L464.68,368.1 L465.28,368.0 L465.88,368.4 L466.48,368.1 L467.08,368.6 L467.68,368.4 L468.28,368.6 L468.88,368.7 L469.48,368.7 L470.08,369.2 L470.68,368.7 L471.28,368.8 L471.88,369.0 L472.48,369.3 L473.08,369.1 L473.68,369.7 L474.28,369.3 L474.88,369.4 L475.48,369.7 L476.08,369.8 L476.68,369.7 L477.28,370.2 L477.88,370.4 L478.48,370.1 L479.08,370.4 L479.68,370.5 L480.28,371.0 L480.88,370.6 L481.48,370.8 L482.08,370.7 L482.68,370.9 L483.28,370.8 L483.88,370.9 L484.48,371.1 L485.08,371.4 L485.68,371.3 L486.28,371.6 L486.88,371.5 L487.48,371.9 L488.08,371.4 L488.68,371.6 L489.28,372.1 L489.88,372.4 L490.48,372.0 L491.08,371.8 L491.68,372.6 L492.28,372.6 L492.88,372.5 L493.48,373.0 L494.08,373.1 L494.68,372.8 L495.28,373.0 L495.88,373.3 L496.48,373.4 L497.08,373.7 L497.68,373.7 L498.28,374.1 L498.88,373.7 L499.48,373.7 L500.08,373.9 L500.68,374.0 L501.28,374.3 L501.88,374.3 L502.48,374.8 L503.08,375.0 L503.68,375.1 L504.28,374.8 L504.88,374.8 L505.48,375.1 L506.08,375.4 L506.68,375.4 L507.28,375.7 L507.88,375.9 L508.48,375.9 L509.08,375.9 L509.68,376.4 L510.28,376.3 L510.88,376.1 L511.48,376.7 L512.08,377.1 L512.68,377.0 L513.28,376.9 L513.88,377.4 L514.48,378.0 L515.08,378.0 L515.68,378.1 L516.28,378.0 L516.88,378.4 L517.48,378.5 L518.08,379.1 L518.68,379.1 L519.28,379.4 L519.88,379.1 L520.48,379.7 L521.08,380.0 L521.68,380.5 L522.28,380.6 L522.88,380.4 L523.48,381.4 L524.08,381.0 L524.68,381.1 L525.28,381.3 L525.88,381.4 L526.48,381.8 L527.08,382.0 L527.68,382.2 L528.28,382.4 L528.88,382.7 L529.48,383.2 L530.08,383.1 L530.68,383.3 L531.28,383.9 L531.88,384.0 L532.48,384.4 L533.08,384.2 L533.68,384.6 L534.28,384.6 L534.88,384.8 L535.48,385.2 L536.08,385.6 L536.68,385.9 L537.28,385.7 L537.88,386.5 L538.48,386.8 L539.08,386.9 L539.68,387.0 L540.28,387.1 L540.88,387.9 L541.48,387.6 L542.08,388.5 L542.68,387.8 L543.28,388.1 L543.88,389.1 L544.48,388.8 L545.08,389.8 L545.68,389.5 L546.28,389.7 L546.88,390.2 L547.48,390.7 L548.08,390.8 L548.68,390.5 L549.28,390.5 L549.88,390.9 L550.48,390.3 L551.08,390.1 L551.68,389.9 L552.28,391.3 L552.88,390.2 L553.48,389.4 L554.08,388.8 L554.68,389.1 L555.28,388.2 L555.88,388.7 L556.48,389.2 L557.08,388.8 L557.68,388.2 L558.28,388.6 L558.88,388.6 L559.48,389.4 L560.08,389.3 L560.68,389.2 L561.28,390.4 L561.88,389.4 L562.48,390.4 L563.08,390.4 L563.68,390.5 L564.28,390.7 L564.88,391.5 L565.48,392.4 L566.08,391.2 L566.68,392.3 L567.28,393.1 L567.88,392.6 L568.48,392.9 L569.08,394.2 L569.68,393.7 L570.28,393.9 L570.88,394.6 L571.48,394.8 L572.08,395.2 L572.68,395.5 L573.28,396.2 L573.88,396.0 L574.48,396.5 L575.08,396.0 L575.68,396.8 L576.28,396.7 L576.88,398.0 L577.48,397.8 L578.08,398.5 L578.68,398.2 L579.28,398.2 L579.88,399.4 L580.48,399.3 L581.08,399.0 L581.68,399.9 L582.28,400.0 L582.88,401.4 L583.48,401.1 L584.08,401.9 L584.68,402.2 L585.28,403.0 L585.88,403.1 L586.48,403.5 L587.08,403.8 L587.68,403.4 L588.28,404.5 L588.88,404.4 L589.48,404.9 L590.08,405.9 L590.68,405.4 L591.28,406.5 L591.88,407.5 L592.48,407.5 L593.08,408.4 L593.68,408.0 L594.28,409.0 L594.88,408.2 L595.48,409.4 L596.08,410.1 L596.68,411.8 L597.28,412.5 L597.88,411.2 L598.48,412.3 L599.08,412.6 L599.68,414.1 L600.28,414.2 L600.88,414.2 L601.48,415.2 L602.08,415.9 L602.68,415.4 L603.28,416.6 L603.88,416.7 L604.48,417.2 L605.08,416.5 L605.68,417.7 L606.28,417.0 L606.88,418.7 L607.48,418.6 L608.08,420.0 L608.68,420.6 L609.28,419.6 L609.88,421.6 L610.48,421.2 L611.08,422.4 L611.68,422.7 L612.28,423.1 L612.88,423.9 L613.48,424.7 L614.08,426.4 L614.68,426.7 L615.28,427.2 L615.88,428.9 L616.48,429.3 L617.08,430.7 L617.68,431.1 L618.28,432.4 L618.88,433.0 L619.48,434.1 L620.08,435.6 L620.68,436.8 L621.28,437.2 L621.88,437.4 L622.48,438.5 L623.08,437.4 L623.68,436.4 L624.28,437.5 L624.88,436.9 L625.48,436.5 L626.08,437.3 L626.68,436.3 L627.28,434.2 L627.88,432.0 L628.48,430.1 L629.08,428.9 L629.68,427.0 L630.28,426.6 L630.88,425.2 L631.48,424.2 L632.08,423.5 L632.68,422.0 L633.28,421.5 L633.88,420.7 L634.48,419.3 L635.08,419.6 L635.68,419.1 L636.28,418.6 L636.88,418.6 L637.48,417.9 L638.08,418.1 L638.68,418.1 L639.28,418.3 L639.88,418.0 L640.48,418.5 L641.08,418.7 L641.68,419.3 L642.28,418.8 L642.88,418.6 L643.48,417.6 L644.08,416.1 L644.68,415.0 L645.28,414.2 L645.88,413.2 L646.48,412.0 L647.08,410.0 L647.68,408.5 L648.28,408.1 L648.88,407.5 L649.48,408.1 L650.08,407.5 L650.68,407.6 L651.28,408.0 L651.88,407.6 L652.48,407.1 L653.08,407.6 L653.68,408.1 L654.28,409.7 L654.88,412.1 L655.48,413.9 L656.08,415.9 L656.68,416.4 L657.28,417.4 L657.88,418.6 L658.48,419.0 L659.08,419.5 L659.68,419.9 L660.28,419.7 L660.88,419.1 L661.48,417.7 L662.08,416.6 L662.68,415.2 L663.28,414.5 L663.88,414.4 L664.48,413.6 L665.08,413.9 L665.68,413.9 L666.28,414.1 L666.88,413.5 L667.48,414.2 L668.08,414.5 L668.68,417.1 L669.28,418.3 L669.88,419.3 L670.48,418.8 L671.08,418.9 L671.68,418.6 L672.28,418.2 L672.88,417.9 L673.48,417.8 L674.08,416.3 L674.68,415.0 L675.28,412.8 L675.88,410.7 L676.48,408.4 L677.08,407.8 L677.68,407.1 L678.28,407.5 L678.88,407.0 L679.48,406.7 L680.08,406.1 L680.68,404.2 L681.28,403.3 L681.88,402.2 L682.48,401.5 L683.08,401.8 L683.68,401.9 L684.28,402.1 L684.88,403.1 L685.48,402.0 L686.08,399.0 L686.68,397.8 L687.28,396.9 L687.88,397.0 L688.48,397.0 L689.08,397.2 L689.68,397.4 L690.28,397.3 L690.88,394.3 L691.48,392.4 L692.08,391.4 L692.68,390.0 L693.28,388.7 L693.88,388.8 L694.48,386.8 L695.08,385.6 L695.68,384.7 L696.28,384.1 L696.88,383.3 L697.48,382.5 L698.08,381.3 L698.68,379.8 L699.28,379.2 L699.88,377.3 L700.48,376.1 L701.08,375.4 L701.68,374.5 L702.28,372.6 L702.88,371.2 L703.48,369.9 L704.08,368.3 L704.68,367.3 L705.28,366.5 L705.88,365.3 L706.48,363.1 L707.08,363.4 L707.68,362.2 L708.28,360.4 L708.88,360.3 L709.48,358.4 L710.08,358.6 L710.68,357.2 L711.28,357.0 L711.88,356.3 L712.48,356.0 L713.08,355.0 L713.68,355.6 L714.28,355.0 L714.88,354.3 L715.48,354.1 L716.08,353.0 L716.68,353.1 L717.28,352.4 L717.88,351.9 L718.48,350.2 L719.08,349.5 L719.68,347.7 L720.28,347.3 L720.88,345.8 L721.48,344.9 L722.08,344.6 L722.68,343.4 L723.28,342.9 L723.88,341.1 L724.48,340.3 L725.08,340.0 L725.68,338.5 L726.28,338.3 L726.88,338.1 L727.48,336.5 L728.08,336.3 L728.68,334.8 L729.28,334.2 L729.88,332.0 L730.48,331.1 L731.08,328.5 L731.68,328.8 L732.28,327.8 L732.88,329.3 L733.48,329.5 L734.08,329.6 L734.68,331.1 L735.28,329.7 L735.88,326.8 L736.48,324.1 L737.08,324.1 L737.68,324.6 L738.28,326.2 L738.88,326.6 L739.48,326.3 L740.08,321.9 L740.68,317.2 L741.28,315.5 L741.88,315.8 L742.48,316.7 L743.08,317.4 L743.68,317.2 L744.28,318.4 L744.88,315.0 L745.48,311.7 L746.08,309.5 L746.68,308.4 L747.28,308.4 L747.88,308.5 L748.48,308.9 L749.08,309.3 L749.68,308.8 L750.28,307.5 L750.88,304.2 L751.48,300.9 L752.08,299.8 L752.68,301.2 L753.28,300.7 L753.88,301.0 L754.48,301.0 L755.08,299.8 L755.68,298.9 L756.28,294.1 L756.88,291.9 L757.48,290.7 L758.08,288.8 L758.68,288.1 L759.28,287.2 L759.88,286.1 L760.48,286.3 L761.08,285.0 L761.68,286.6 L762.28,287.6 L762.88,288.6 L763.48,286.7 L764.08,283.2 L764.68,282.4 L765.28,281.9 L765.88,282.3 L766.48,282.9 L767.08,283.9 L767.68,283.8 L768.28,281.6 L768.88,275.3 L769.48,273.1 L770.08,273.0 L770.68,272.1 L771.28,273.2 L771.88,273.6 L772.48,272.4 L773.08,271.3 L773.68,269.1 L774.28,268.1 L774.88,267.5 L775.48,269.1 L776.08,273.1 L776.68,275.4 L777.28,274.2 L777.88,273.0 L778.48,271.0 L779.08,268.9 L779.68,269.2 L780.28,273.2 L780.88,278.8 L781.48,269.9 L782.08,268.4 L782.68,270.5 L783.28,276.0 L783.88,282.5 L784.48,299.1 L785.08,290.3 L785.68,270.9 L786.28,278.0 L786.88,291.4 L787.48,302.1 L788.08,309.9 L788.68,304.1 L789.28,289.3 L789.88,295.7 L790.48,316.6"/>
<path d="M105.28,398.8 L105.88,399.4 L106.48,399.2 L107.08,399.0 L107.68,399.3 L108.28,399.0 L108.88,399.1 L109.48,399.3 L110.08,399.8 L110.68,400.0 L111.28,399.2 L111.88,399.5 L112.48,399.5 L113.08,399.7 L113.68,399.7 L114.28,399.6 L114.88,399.8 L115.48,399.7 L116.08,399.7 L116.68,400.0 L117.28,399.9 L117.88,399.8 L118.48,400.1 L119.08,400.0 L119.68,399.9 L120.28,400.1 L120.88,400.3 L121.48,400.0 L122.08,400.5 L122.68,400.2 L123.28,400.4 L123.88,400.5 L124.48,400.4 L125.08,400.2 L125.68,400.4 L126.28,400.6 L126.88,400.8 L127.48,400.7 L128.08,400.5 L128.68,400.4 L129.28,400.5 L129.88,400.5 L130.48,400.7 L131.08,400.7 L131.68,400.5 L132.28,400.9 L132.88,400.6 L133.48,400.8 L134.08,400.7 L134.68,401.1 L135.28,401.0 L135.88,401.0 L136.48,401.2 L137.08,401.2 L137.68,400.7 L138.28,401.0 L138.88,400.8 L139.48,400.9 L140.08,401.0 L140.68,400.8 L141.28,400.9 L141.88,401.2 L142.48,401.2 L143.08,401.3 L143.68,401.2 L144.28,401.2 L144.88,401.2 L145.48,401.2 L146.08,401.1 L146.68,401.3 L147.28,401.2 L147.88,401.2 L148.48,401.1 L149.08,401.5 L149.68,401.3 L150.28,401.4 L150.88,401.5 L151.48,401.3 L152.08,401.6 L152.68,401.6 L153.28,401.5 L153.88,401.1 L154.48,401.7 L155.08,401.6 L155.68,401.6 L156.28,401.9 L156.88,401.3 L157.48,401.9 L158.08,401.4 L158.68,401.7 L159.28,401.7 L159.88,401.2 L160.48,401.5 L161.08,401.3 L161.68,401.5 L162.28,401.1 L162.88,401.8 L163.48,401.5 L164.08,401.4 L164.68,401.2 L165.28,401.7 L165.88,401.3 L166.48,401.5 L167.08,401.1 L167.68,401.4 L168.28,400.9 L168.88,401.4 L169.48,401.1 L170.08,401.0 L170.68,401.4 L171.28,401.3 L171.88,401.0 L172.48,401.0 L173.08,401.4 L173.68,400.9 L174.28,401.1 L174.88,400.9 L175.48,401.0 L176.08,401.0 L176.68,401.0 L177.28,400.8 L177.88,401.1 L178.48,401.1 L179.08,400.9 L179.68,401.3 L180.28,400.9 L180.88,401.0 L181.48,401.4 L182.08,400.9 L182.68,400.9 L183.28,400.6 L183.88,400.8 L184.48,400.8 L185.08,400.9 L185.68,400.7 L186.28,401.1 L186.88,401.0 L187.48,401.0 L188.08,400.7 L188.68,400.4 L189.28,400.9 L189.88,400.9 L190.48,400.8 L191.08,401.2 L191.68,400.8 L192.28,400.8 L192.88,400.8 L193.48,400.8 L194.08,400.9 L194.68,400.9 L195.28,400.8 L195.88,400.6 L196.48,400.5 L197.08,400.7 L197.68,400.8 L198.28,400.8 L198.88,400.5 L199.48,400.3 L200.08,400.3 L200.68,400.9 L201.28,400.7 L201.88,400.6 L202.48,400.5 L203.08,401.0 L203.68,400.7 L204.28,400.7 L204.88,400.4 L205.48,400.7 L206.08,400.4 L206.68,400.3 L207.28,400.8 L207.88,400.5 L208.48,400.5 L209.08,400.0 L209.68,400.3 L210.28,400.2 L210.88,400.4 L211.48,400.2 L212.08,400.2 L212.68,400.0 L213.28,400.4 L213.88,399.8 L214.48,400.2 L215.08,400.1 L215.68,400.3 L216.28,399.8 L216.88,400.1 L217.48,399.7 L218.08,399.9 L218.68,399.8 L219.28,400.4 L219.88,399.5 L220.48,399.6 L221.08,399.3 L221.68,399.4 L222.28,399.5 L222.88,399.5 L223.48,399.3 L224.08,399.3 L224.68,399.3 L225.28,399.3 L225.88,399.6 L226.48,399.4 L227.08,399.3 L227.68,399.2 L228.28,399.4 L228.88,399.4 L229.48,399.0 L230.08,399.2 L230.68,399.1 L231.28,398.6 L231.88,399.4 L232.48,399.1 L233.08,398.6 L233.68,398.4 L234.28,398.8 L234.88,398.6 L235.48,398.8 L236.08,398.6 L236.68,398.9 L237.28,398.5 L237.88,398.6 L238.48,398.6 L239.08,398.4 L239.68,398.7 L240.28,398.5 L240.88,398.4 L241.48,398.3 L242.08,397.8 L242.68,398.1 L243.28,398.7 L243.88,398.2 L244.48,398.1 L245.08,398.2 L245.68,398.1 L246.28,398.5 L246.88,397.9 L247.48,398.0 L248.08,398.3 L248.68,397.8 L249.28,397.7 L249.88,397.7 L250.48,397.7 L251.08,398.1 L251.68,398.1 L252.28,397.9 L252.88,398.2 L253.48,397.3 L254.08,397.9 L254.68,397.5 L255.28,397.7 L255.88,397.5 L256.48,397.3 L257.08,397.8 L257.68,397.8 L258.28,397.5 L258.88,397.2 L259.48,397.8 L260.08,396.9 L260.68,397.4 L261.28,397.2 L261.88,397.2 L262.48,397.5 L263.08,397.1 L263.68,397.4 L264.28,397.3 L264.88,397.6 L265.48,397.4 L266.08,397.3 L266.68,397.1 L267.28,397.0 L267.88,396.9 L268.48,397.2 L269.08,397.3 L269.68,397.0 L270.28,397.1 L270.88,396.9 L271.48,397.0 L272.08,396.8 L272.68,397.0 L273.28,397.2 L273.88,397.1 L274.48,396.6 L275.08,397.1 L275.68,396.9 L276.28,397.3 L276.88,397.2 L277.48,397.2 L278.08,397.0 L278.68,397.1 L279.28,396.9 L279.88,397.0 L280.48,397.2 L281.08,396.8 L281.68,397.1 L282.28,397.3 L282.88,396.9 L283.48,397.0 L284.08,397.2 L284.68,397.2 L285.28,397.3 L285.88,397.4 L286.48,397.5 L287.08,397.2 L287.68,397.3 L288.28,397.3 L288.88,397.1 L289.48,397.3 L290.08,397.6 L290.68,397.5 L291.28,397.5 L291.88,397.3 L292.48,397.3 L293.08,397.6 L293.68,397.1 L294.28,397.2 L294.88,397.6 L295.48,397.6 L296.08,397.7 L296.68,397.8 L297.28,397.8 L297.88,397.6 L298.48,398.0 L299.08,398.0 L299.68,397.9 L300.28,397.8 L300.88,398.2 L301.48,398.5 L302.08,398.6 L302.68,398.9 L303.28,398.7 L303.88,398.8 L304.48,399.0 L305.08,399.5 L305.68,400.0 L306.28,400.6 L306.88,401.0 L307.48,401.2 L308.08,401.8 L308.68,402.4 L309.28,402.6 L309.88,403.0 L310.48,402.9 L311.08,402.7 L311.68,402.3 L312.28,401.7 L312.88,401.4 L313.48,401.4 L314.08,400.9 L314.68,400.8 L315.28,400.3 L315.88,400.6 L316.48,400.4 L317.08,400.7 L317.68,400.6 L318.28,400.9 L318.88,400.6 L319.48,401.1 L320.08,401.2 L320.68,401.1 L321.28,401.5 L321.88,401.3 L322.48,401.8 L323.08,401.9 L323.68,402.2 L324.28,401.6 L324.88,401.8 L325.48,401.4 L326.08,400.4 L326.68,400.6 L327.28,400.1 L327.88,400.3 L328.48,400.2 L329.08,399.7 L329.68,400.3 L330.28,400.0 L330.88,400.1 L331.48,400.3 L332.08,400.3 L332.68,400.2 L333.28,400.3 L333.88,400.3 L334.48,400.1 L335.08,400.5 L335.68,400.5 L336.28,400.6 L336.88,400.7 L337.48,400.5 L338.08,400.4 L338.68,400.9 L339.28,401.0 L339.88,401.0 L340.48,401.0 L341.08,401.5 L341.68,401.2 L342.28,401.0 L342.88,401.3 L343.48,401.5 L344.08,401.2 L344.68,401.6 L345.28,401.1 L345.88,401.5 L346.48,401.8 L347.08,401.9 L347.68,401.9 L348.28,402.1 L348.88,401.8 L349.48,402.0 L350.08,402.1 L350.68,401.7 L351.28,402.2 L351.88,402.3 L352.48,402.5 L353.08,402.5 L353.68,402.6 L354.28,402.5 L354.88,402.3 L355.48,402.3 L356.08,402.5 L356.68,402.4 L357.28,402.8 L357.88,403.0 L358.48,403.0 L359.08,402.9 L359.68,403.1 L360.28,403.0 L360.88,403.2 L361.48,403.4 L362.08,403.0 L362.68,403.1 L363.28,403.3 L363.88,403.9 L364.48,403.5 L365.08,403.6 L365.68,403.8 L366.28,403.5 L366.88,403.2 L367.48,403.4 L368.08,403.6 L368.68,404.2 L369.28,403.9 L369.88,403.9 L370.48,403.9 L371.08,403.9 L371.68,404.0 L372.28,404.1 L372.88,404.4 L373.48,404.3 L374.08,404.0 L374.68,404.5 L375.28,404.5 L375.88,404.4 L376.48,404.6 L377.08,404.5 L377.68,405.1 L378.28,404.9 L378.88,404.7 L379.48,404.5 L380.08,404.9 L380.68,405.0 L381.28,405.0 L381.88,405.0 L382.48,405.4 L383.08,405.0 L383.68,405.2 L384.28,405.4 L384.88,405.1 L385.48,405.4 L386.08,405.6 L386.68,405.5 L387.28,405.2 L387.88,405.6 L388.48,405.9 L389.08,405.7 L389.68,405.7 L390.28,405.6 L390.88,405.7 L391.48,405.8 L392.08,405.5 L392.68,405.6 L393.28,405.9 L393.88,406.0 L394.48,406.0 L395.08,406.0 L395.68,406.3 L396.28,406.1 L396.88,406.2 L397.48,406.1 L398.08,406.2 L398.68,406.4 L399.28,406.9 L399.88,406.7 L400.48,406.3 L401.08,406.9 L401.68,406.8 L402.28,406.7 L402.88,407.0 L403.48,406.8 L404.08,406.9 L404.68,406.9 L405.28,407.2 L405.88,407.0 L406.48,407.7 L407.08,407.9 L407.68,407.6 L408.28,407.7 L408.88,407.9 L409.48,407.9 L410.08,408.1 L410.68,408.5 L411.28,408.7 L411.88,408.6 L412.48,409.0 L413.08,409.2 L413.68,409.4 L414.28,409.9 L414.88,410.2 L415.48,411.5 L416.08,413.0 L416.68,414.0 L417.28,414.4 L417.88,414.2 L418.48,413.0 L419.08,412.5 L419.68,411.7 L420.28,411.8 L420.88,411.5 L421.48,411.5 L422.08,411.3 L422.68,411.2 L423.28,411.0 L423.88,411.0 L424.48,411.1 L425.08,410.9 L425.68,410.7 L426.28,410.4 L426.88,410.3 L427.48,410.6 L428.08,410.6 L428.68,410.6 L429.28,410.5 L429.88,410.3 L430.48,410.2 L431.08,410.7 L431.68,410.7 L432.28,410.8 L432.88,410.3 L433.48,410.7 L434.08,410.8 L434.68,410.6 L435.28,410.7 L435.88,410.8 L436.48,410.8 L437.08,410.9 L437.68,410.9 L438.28,411.3 L438.88,411.3 L439.48,411.3 L440.08,411.5 L440.68,411.4 L441.28,411.2 L441.88,411.6 L442.48,411.6 L443.08,412.1 L443.68,412.0 L444.28,412.3 L444.88,412.2 L445.48,411.8 L446.08,412.4 L446.68,412.2 L447.28,412.4 L447.88,412.3 L448.48,412.5 L449.08,413.1 L449.68,412.7 L450.28,412.1 L450.88,413.2 L451.48,413.0 L452.08,413.0 L452.68,413.3 L453.28,413.2 L453.88,413.0 L454.48,413.5 L455.08,413.4 L455.68,413.6 L456.28,413.6 L456.88,413.6 L457.48,413.7 L458.08,413.6 L458.68,413.7 L459.28,414.1 L459.88,414.0 L460.48,414.2 L461.08,414.2 L461.68,414.2 L462.28,414.6 L462.88,414.3 L463.48,414.4 L464.08,414.6 L464.68,414.9 L465.28,415.0 L465.88,414.7 L466.48,414.8 L467.08,415.0 L467.68,415.0 L468.28,415.3 L468.88,415.6 L469.48,415.5 L470.08,415.3 L470.68,415.3 L471.28,415.4 L471.88,415.8 L472.48,416.1 L473.08,415.9 L473.68,416.3 L474.28,416.5 L474.88,416.9 L475.48,416.3 L476.08,416.7 L476.68,417.0 L477.28,417.1 L477.88,417.2 L478.48,417.2 L479.08,417.3 L479.68,417.3 L480.28,417.5 L480.88,417.3 L481.48,418.2 L482.08,417.7 L482.68,418.0 L483.28,418.2 L483.88,418.1 L484.48,418.2 L485.08,418.7 L485.68,418.5 L486.28,419.0 L486.88,419.4 L487.48,419.2 L488.08,418.6 L488.68,419.3 L489.28,419.4 L489.88,419.5 L490.48,419.8 L491.08,419.7 L491.68,419.9 L492.28,419.9 L492.88,420.0 L493.48,420.4 L494.08,420.6 L494.68,420.4 L495.28,420.9 L495.88,420.7 L496.48,420.7 L497.08,420.9 L497.68,421.1 L498.28,421.5 L498.88,421.6 L499.48,421.5 L500.08,421.9 L500.68,421.6 L501.28,422.0 L501.88,422.1 L502.48,421.8 L503.08,422.4 L503.68,422.4 L504.28,422.9 L504.88,422.6 L505.48,423.1 L506.08,423.1 L506.68,422.8 L507.28,423.4 L507.88,423.5 L508.48,423.5 L509.08,423.6 L509.68,424.1 L510.28,423.9 L510.88,424.4 L511.48,424.4 L512.08,424.3 L512.68,424.4 L513.28,424.7 L513.88,424.8 L514.48,424.8 L515.08,425.3 L515.68,425.4 L516.28,425.5 L516.88,425.3 L517.48,425.9 L518.08,426.0 L518.68,426.4 L519.28,426.3 L519.88,426.4 L520.48,426.6 L521.08,426.8 L521.68,427.4 L522.28,427.0 L522.88,427.2 L523.48,427.6 L524.08,427.7 L524.68,427.6 L525.28,427.8 L525.88,428.1 L526.48,428.5 L527.08,428.7 L527.68,429.1 L528.28,429.1 L528.88,429.1 L529.48,429.4 L530.08,429.7 L530.68,429.9 L531.28,429.5 L531.88,430.2 L532.48,430.4 L533.08,430.8 L533.68,430.7 L534.28,431.0 L534.88,430.9 L535.48,431.6 L536.08,431.8 L536.68,431.7 L537.28,432.1 L537.88,432.2 L538.48,432.7 L539.08,432.7 L539.68,433.0 L540.28,433.2 L540.88,433.2 L541.48,433.4 L542.08,433.8 L542.68,433.7 L543.28,433.8 L543.88,434.4 L544.48,434.6 L545.08,434.6 L545.68,434.6 L546.28,434.7 L546.88,434.9 L547.48,435.1 L548.08,435.5 L548.68,435.4 L549.28,434.8 L549.88,435.0 L550.48,435.0 L551.08,434.6 L551.68,434.2 L552.28,433.7 L552.88,433.5 L553.48,433.1 L554.08,432.7 L554.68,432.2 L555.28,431.7 L555.88,432.0 L556.48,431.3 L557.08,431.1 L557.68,430.6 L558.28,430.9 L558.88,430.7 L559.48,430.9 L560.08,431.6 L560.68,431.6 L561.28,431.7 L561.88,431.7 L562.48,432.5 L563.08,432.8 L563.68,433.1 L564.28,433.3 L564.88,433.2 L565.48,433.6 L566.08,434.1 L566.68,434.3 L567.28,434.5 L567.88,435.1 L568.48,435.2 L569.08,435.2 L569.68,435.5 L570.28,435.3 L570.88,435.8 L571.48,436.3 L572.08,436.2 L572.68,436.8 L573.28,437.2 L573.88,437.3 L574.48,437.7 L575.08,437.7 L575.68,438.4 L576.28,438.4 L576.88,438.3 L577.48,439.1 L578.08,439.2 L578.68,439.8 L579.28,439.9 L579.88,440.1 L580.48,440.7 L581.08,440.7 L581.68,440.8 L582.28,441.5 L582.88,441.9 L583.48,441.9 L584.08,442.5 L584.68,443.0 L585.28,442.9 L585.88,442.9 L586.48,443.8 L587.08,444.0 L587.68,444.5 L588.28,444.7 L588.88,445.0 L589.48,445.3 L590.08,445.6 L590.68,446.0 L591.28,446.2 L591.88,446.9 L592.48,447.2 L593.08,447.4 L593.68,448.1 L594.28,448.1 L594.88,448.3 L595.48,448.8 L596.08,449.0 L596.68,449.2 L597.28,449.8 L597.88,450.3 L598.48,450.0 L599.08,450.5 L599.68,450.4 L600.28,451.0 L600.88,451.8 L601.48,451.7 L602.08,451.9 L602.68,452.3 L603.28,452.3 L603.88,452.8 L604.48,453.0 L605.08,453.2 L605.68,453.9 L606.28,454.0 L606.88,454.4 L607.48,454.6 L608.08,455.1 L608.68,455.5 L609.28,455.9 L609.88,456.6 L610.48,456.8 L611.08,457.3 L611.68,457.6 L612.28,458.2 L612.88,458.4 L613.48,458.8 L614.08,459.5 L614.68,460.0 L615.28,460.5 L615.88,461.4 L616.48,461.7 L617.08,462.4 L617.68,462.8 L618.28,463.4 L618.88,464.1 L619.48,464.9 L620.08,465.0 L620.68,465.5 L621.28,465.7 L621.88,466.5 L622.48,467.1 L623.08,467.8 L623.68,468.1 L624.28,468.0 L624.88,468.6 L625.48,468.7 L626.08,468.8 L626.68,468.5 L627.28,468.8 L627.88,467.9 L628.48,467.8 L629.08,467.4 L629.68,467.1 L630.28,466.7 L630.88,466.3 L631.48,466.3 L632.08,465.4 L632.68,465.2 L633.28,464.9 L633.88,464.8 L634.48,464.4 L635.08,463.8 L635.68,464.2 L636.28,463.7 L636.88,463.8 L637.48,463.8 L638.08,463.4 L638.68,463.5 L639.28,463.2 L639.88,463.2 L640.48,463.5 L641.08,463.1 L641.68,463.1 L642.28,462.9 L642.88,462.9 L643.48,462.7 L644.08,462.6 L644.68,462.0 L645.28,461.5 L645.88,461.2 L646.48,460.6 L647.08,460.1 L647.68,459.5 L648.28,459.7 L648.88,459.3 L649.48,459.0 L650.08,459.0 L650.68,458.8 L651.28,458.7 L651.88,458.9 L652.48,458.9 L653.08,458.9 L653.68,458.9 L654.28,458.7 L654.88,458.8 L655.48,458.7 L656.08,458.6 L656.68,458.7 L657.28,458.7 L657.88,458.4 L658.48,458.3 L659.08,458.1 L659.68,457.6 L660.28,457.3 L660.88,456.8 L661.48,456.2 L662.08,455.9 L662.68,455.0 L663.28,455.1 L663.88,454.3 L664.48,454.4 L665.08,453.8 L665.68,453.8 L666.28,453.3 L666.88,453.1 L667.48,452.9 L668.08,452.9 L668.68,453.0 L669.28,452.8 L669.88,452.6 L670.48,452.3 L671.08,452.2 L671.68,452.1 L672.28,451.8 L672.88,451.3 L673.48,451.1 L674.08,450.3 L674.68,449.6 L675.28,448.8 L675.88,447.9 L676.48,447.1 L677.08,446.1 L677.68,445.6 L678.28,444.3 L678.88,443.6 L679.48,442.2 L680.08,441.2 L680.68,440.4 L681.28,439.1 L681.88,437.9 L682.48,436.5 L683.08,435.3 L683.68,434.4 L684.28,433.3 L684.88,432.6 L685.48,431.6 L686.08,430.3 L686.68,429.3 L687.28,428.8 L687.88,427.9 L688.48,426.8 L689.08,426.3 L689.68,425.2 L690.28,424.4 L690.88,424.2 L691.48,423.3 L692.08,422.6 L692.68,422.1 L693.28,422.0 L693.88,421.6 L694.48,420.6 L695.08,420.4 L695.68,419.2 L696.28,418.4 L696.88,418.2 L697.48,417.8 L698.08,416.9 L698.68,415.9 L699.28,415.1 L699.88,413.9 L700.48,412.9 L701.08,411.6 L701.68,410.8 L702.28,409.4 L702.88,408.3 L703.48,407.5 L704.08,406.1 L704.68,405.3 L705.28,403.7 L705.88,402.9 L706.48,401.9 L707.08,400.8 L707.68,399.7 L708.28,398.4 L708.88,397.6 L709.48,396.5 L710.08,395.8 L710.68,394.8 L711.28,393.8 L711.88,393.1 L712.48,392.1 L713.08,391.2 L713.68,390.4 L714.28,389.7 L714.88,389.0 L715.48,387.5 L716.08,387.0 L716.68,385.9 L717.28,385.7 L717.88,384.8 L718.48,384.5 L719.08,383.4 L719.68,382.6 L720.28,381.8 L720.88,381.4 L721.48,380.9 L722.08,380.5 L722.68,379.9 L723.28,379.4 L723.88,378.2 L724.48,377.6 L725.08,376.8 L725.68,376.4 L726.28,375.2 L726.88,375.0 L727.48,374.3 L728.08,373.6 L728.68,372.7 L729.28,372.1 L729.88,371.9 L730.48,371.6 L731.08,370.8 L731.68,369.6 L732.28,368.9 L732.88,368.0 L733.48,367.3 L734.08,366.6 L734.68,366.7 L735.28,366.2 L735.88,365.2 L736.48,363.9 L737.08,363.4 L737.68,362.6 L738.28,362.2 L738.88,361.8 L739.48,360.8 L740.08,360.1 L740.68,359.5 L741.28,358.4 L741.88,357.9 L742.48,357.0 L743.08,356.4 L743.68,356.2 L744.28,354.3 L744.88,354.2 L745.48,352.5 L746.08,352.6 L746.68,351.2 L747.28,350.7 L747.88,349.7 L748.48,348.7 L749.08,348.4 L749.68,347.7 L750.28,346.6 L750.88,346.9 L751.48,346.3 L752.08,345.7 L752.68,345.1 L753.28,344.5 L753.88,343.0 L754.48,342.6 L755.08,342.3 L755.68,340.6 L756.28,338.9 L756.88,336.2 L757.48,334.8 L758.08,333.7 L758.68,334.7 L759.28,335.0 L759.88,336.8 L760.48,336.4 L761.08,336.0 L761.68,330.9 L762.28,324.7 L762.88,322.3 L763.48,323.3 L764.08,324.8 L764.68,326.1 L765.28,327.3 L765.88,327.9 L766.48,328.2 L767.08,326.9 L767.68,324.5 L768.28,320.5 L768.88,316.7 L769.48,314.5 L770.08,315.0 L770.68,318.9 L771.28,321.5 L771.88,309.9 L772.48,304.4 L773.08,307.2 L773.68,311.7 L774.28,315.8 L774.88,311.2 L775.48,303.2 L776.08,304.1 L776.68,312.7 L777.28,309.3 L777.88,310.6 L778.48,321.4 L779.08,316.2 L779.68,313.5 L780.28,326.0 L780.88,318.0 L781.48,313.2 L782.08,328.1 L782.68,323.0 L783.28,320.0 L783.88,335.1 L784.48,328.3 L785.08,327.8 L785.68,339.7 L786.28,331.0 L786.88,333.4 L787.48,346.0 L788.08,336.9 L788.68,345.0 L789.28,350.6 L789.88,344.4 L790.48,356.2"/>
</g>
<g fill="none" stroke="#000" stroke-width="2.4">
<rect x="131.6" y="3.5" width="856.6" height="497.4"/>
</g>
<g fill="none" stroke="#000" stroke-width="2.3">
<line x1="179.19" y1="500.9" x2="179.19" y2="491.4"/><line x1="226.78" y1="500.9" x2="226.78" y2="491.4"/><line x1="274.37" y1="500.9" x2="274.37" y2="488.4"/><line x1="321.96" y1="500.9" x2="321.96" y2="491.4"/><line x1="369.54" y1="500.9" x2="369.54" y2="491.4"/><line x1="417.13" y1="500.9" x2="417.13" y2="488.4"/><line x1="464.72" y1="500.9" x2="464.72" y2="491.4"/><line x1="512.31" y1="500.9" x2="512.31" y2="491.4"/><line x1="559.90" y1="500.9" x2="559.90" y2="488.4"/><line x1="607.49" y1="500.9" x2="607.49" y2="491.4"/><line x1="655.08" y1="500.9" x2="655.08" y2="491.4"/><line x1="702.67" y1="500.9" x2="702.67" y2="488.4"/><line x1="750.26" y1="500.9" x2="750.26" y2="491.4"/><line x1="797.84" y1="500.9" x2="797.84" y2="491.4"/><line x1="845.43" y1="500.9" x2="845.43" y2="488.4"/><line x1="893.02" y1="500.9" x2="893.02" y2="491.4"/><line x1="940.61" y1="500.9" x2="940.61" y2="491.4"/>
<line x1="131.6" y1="68.5" x2="143.6" y2="68.5"/><line x1="131.6" y1="284.5" x2="143.6" y2="284.5"/>
</g>
<text transform="translate(95.0,81.7) scale(0.983,1)" text-anchor="end">2</text>

<text transform="translate(95.0,297.5) scale(0.983,1)" text-anchor="end">1</text>

<text transform="translate(95.0,514.5) scale(0.983,1)" text-anchor="end">0</text>

<text transform="translate(131.6,564) scale(0.983,1)" text-anchor="middle">4000</text>
<text transform="translate(274.4,564) scale(0.983,1)" text-anchor="middle">3400</text>
<text transform="translate(417.1,564) scale(0.983,1)" text-anchor="middle">2800</text>
<text transform="translate(559.9,564) scale(0.983,1)" text-anchor="middle">2200</text>
<text transform="translate(702.7,564) scale(0.983,1)" text-anchor="middle">1600</text>
<text transform="translate(845.4,564) scale(0.983,1)" text-anchor="middle">1000</text>
<text transform="translate(988.2,564) scale(0.983,1)" text-anchor="middle">400</text>

<text transform="translate(275.0,104) scale(0.983,1)" text-anchor="middle">1</text>

<text transform="translate(275.5,200.5) scale(0.983,1)" text-anchor="middle">2</text>

<text transform="translate(276.5,280.5) scale(0.983,1)" text-anchor="middle">3</text>

<text transform="translate(274.5,345.5) scale(0.983,1)" text-anchor="middle">4</text>

<text transform="translate(277.0,392.5) scale(0.983,1)" text-anchor="middle">5</text>

<text transform="translate(37.3,252.7) rotate(-90)" text-anchor="middle">Absorbance</text>
<text transform="translate(376.3,630.7) scale(0.983,1)">Wavenumber / cm<tspan font-size="27px" dy="-15">-1</tspan></text>
</svg>
</body></html>
